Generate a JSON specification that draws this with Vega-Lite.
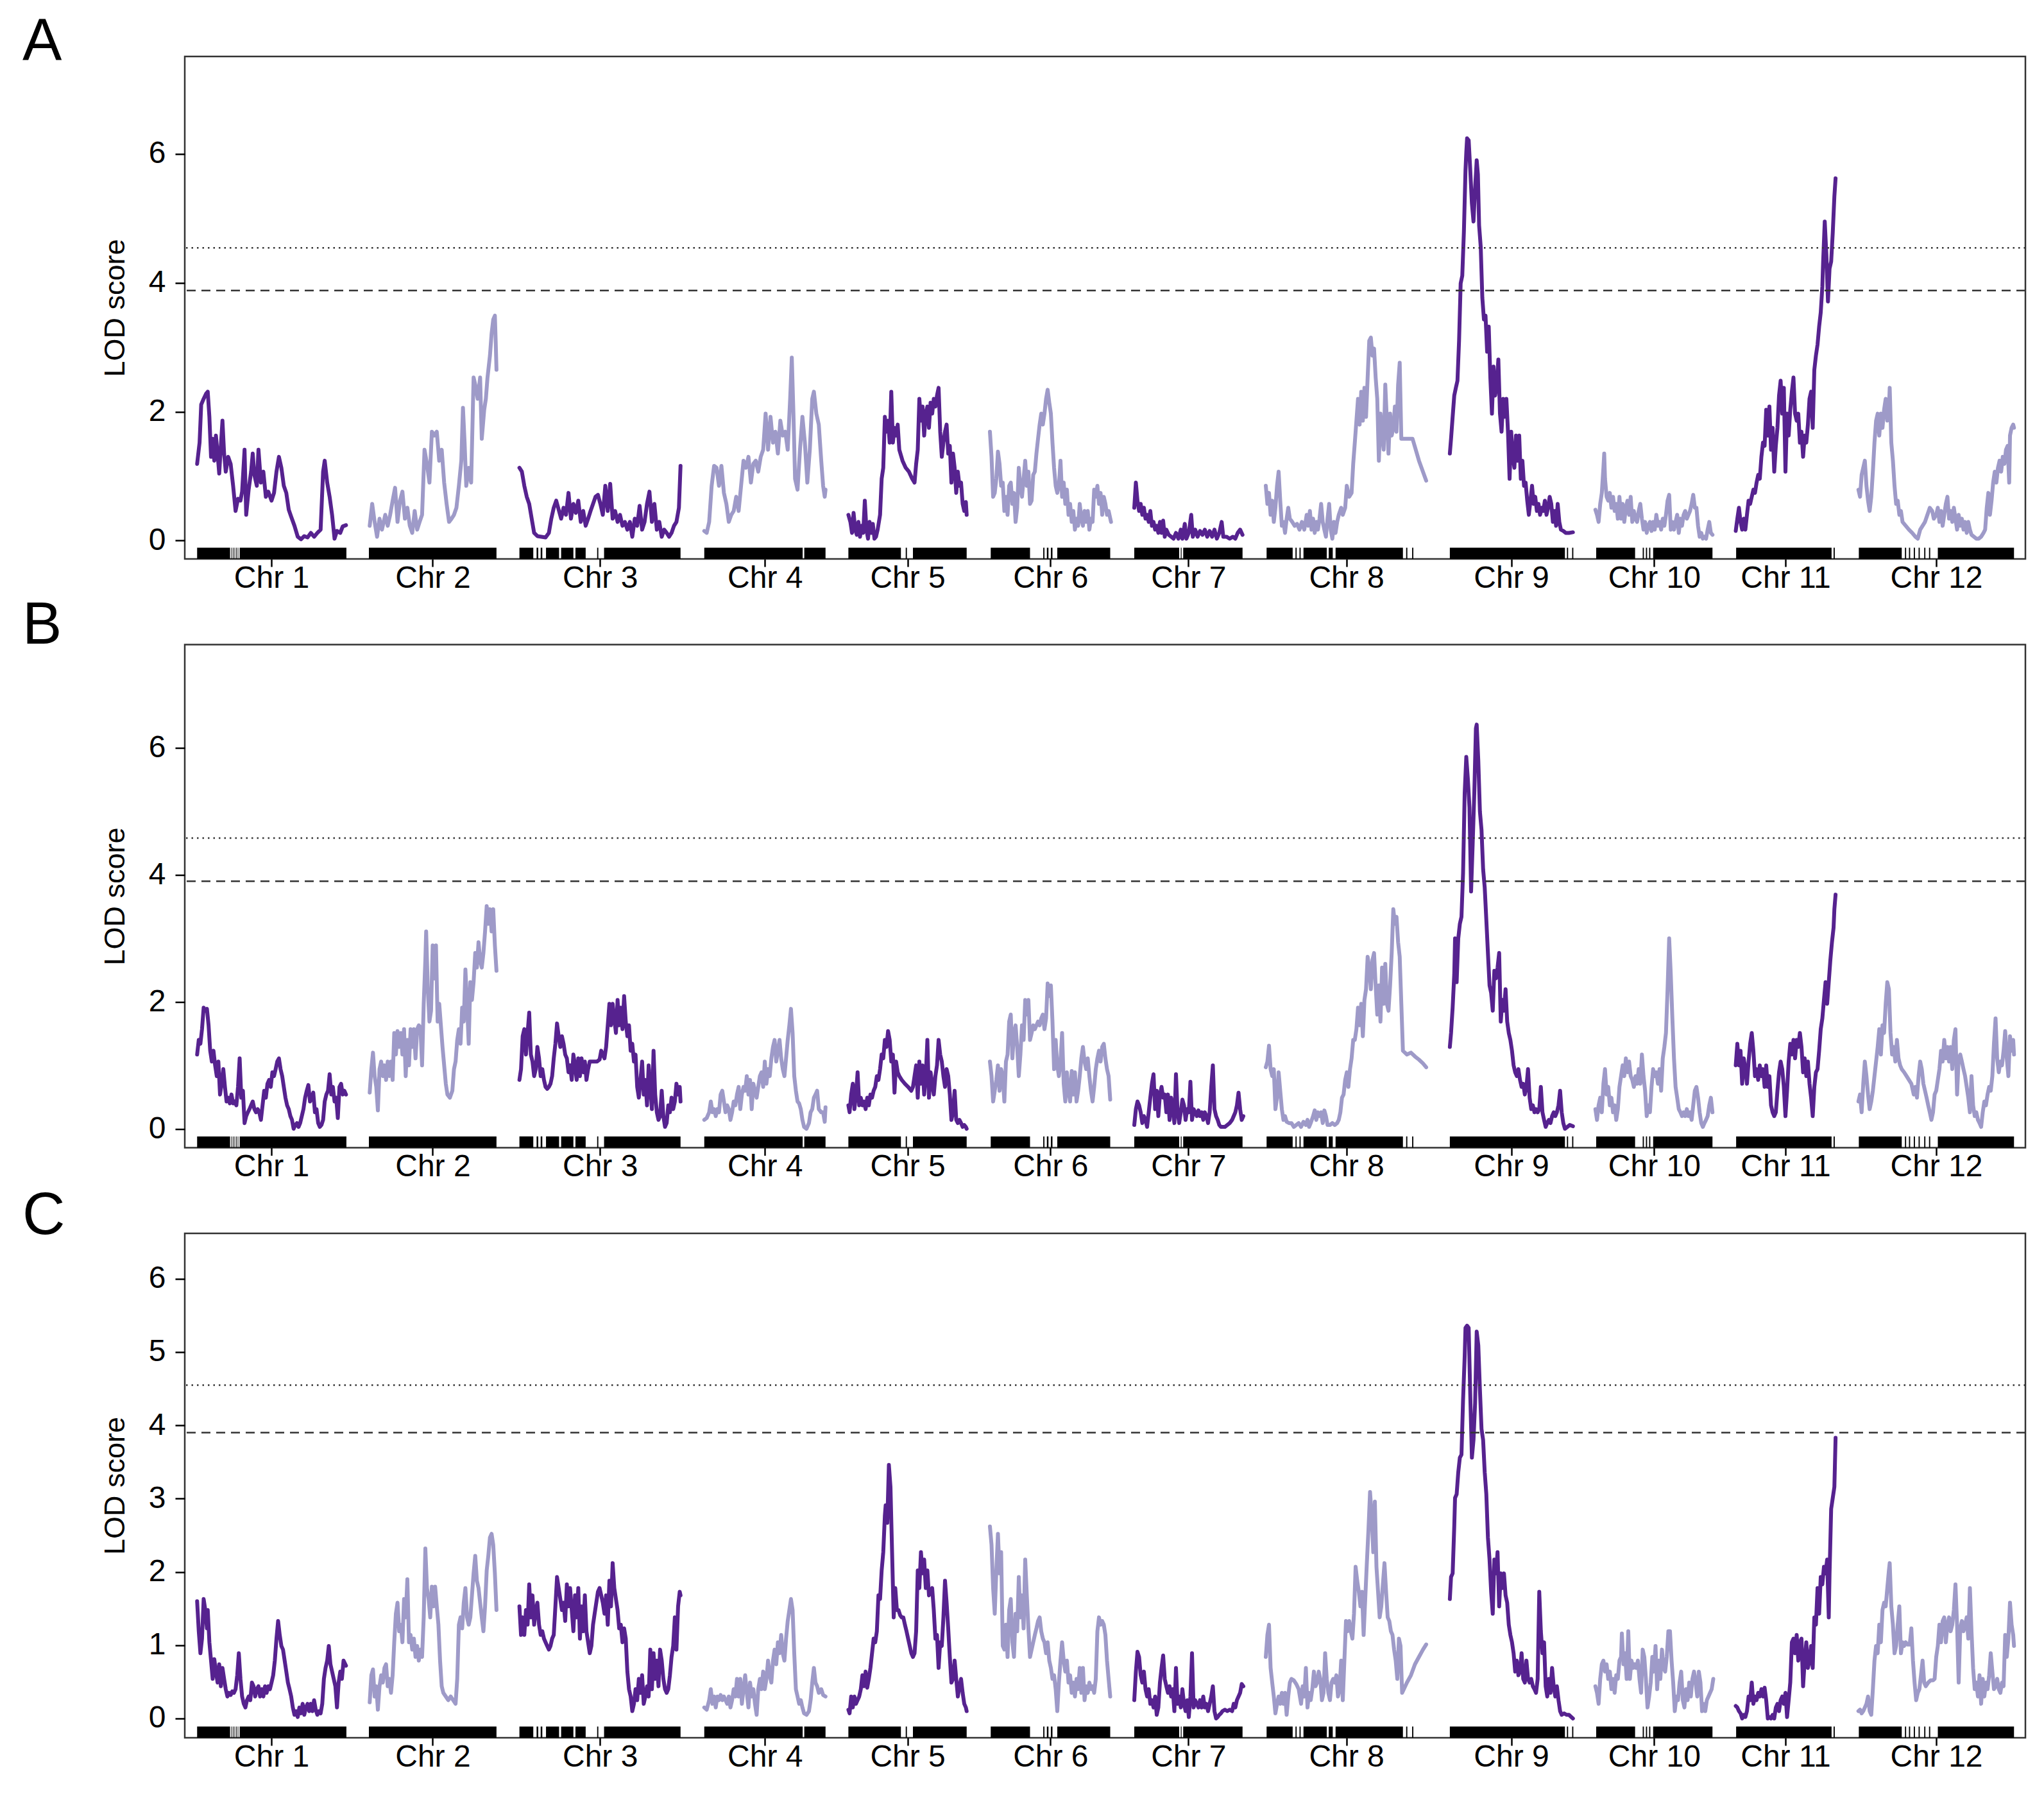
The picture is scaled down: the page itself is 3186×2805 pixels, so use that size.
{
  "$schema": "https://vega.github.io/schema/vega-lite/v6.json",
  "background": "white",
  "autosize": {"type": "pad"},
  "padding": {"left": 33, "top": 18, "right": 10, "bottom": 10},
  "spacing": 133.5,
  "bounds": "flush",
  "config": {
    "font": "Liberation Sans",
    "view": {"stroke": "#333333", "strokeWidth": 2.5},
    "axis": {"domain": false, "grid": false, "tickColor": "#000000", "tickWidth": 2.5, "labelColor": "#000000", "labelFont": "Liberation Sans", "labelFontSize": 48, "titleFont": "Liberation Sans", "titleFontSize": 45, "titleFontWeight": "normal", "titleColor": "#000000", "labelFlush": false, "labelOverlap": false},
    "axisX": {"tickSize": 12, "labelPadding": -6, "labelAngle": 0},
    "axisY": {"tickSize": 15, "labelPadding": 15, "format": "d", "titleAngle": 270, "titleBaseline": "alphabetic", "titleAlign": "center"}
  },
  "datasets": {
    "rug": [
      {"a":30.8,"b":113},{"a":116,"b":117.5},{"a":120,"b":121.5},{"a":124,"b":125.5},{"a":128,"b":129.5},{"a":132,"b":133.5},{"a":137,"b":403.1},
      {"a":459.2,"b":777.4},
      {"a":834.6,"b":869.2},{"a":877.4,"b":881.5},{"a":887.6,"b":891.7},{"a":900.9,"b":933.5},{"a":938.6,"b":969.2},{"a":974.3,"b":999.8},{"a":1028.4,"b":1031.4},{"a":1045.7,"b":1236.4},
      {"a":1295.6,"b":1541},{"a":1545,"b":1598},
      {"a":1655,"b":1786},{"a":1798,"b":1801},{"a":1816,"b":1950},
      {"a":2010,"b":2108},{"a":2141,"b":2144},{"a":2150,"b":2154},{"a":2160,"b":2164},{"a":2176,"b":2308},
      {"a":2368,"b":2480},{"a":2484,"b":2486},{"a":2490,"b":2638},
      {"a":2698,"b":2763},{"a":2770,"b":2773},{"a":2780,"b":2783},{"a":2790,"b":2848},{"a":2853,"b":2863},{"a":2870,"b":3038},{"a":3046,"b":3049},{"a":3061,"b":3064},
      {"a":3155,"b":3442},{"a":3447,"b":3450},{"a":3460,"b":3463},
      {"a":3520,"b":3617},{"a":3636,"b":3639},{"a":3644,"b":3647},{"a":3652,"b":3655},{"a":3662,"b":3810},
      {"a":3869,"b":4107},{"a":4112,"b":4115},
      {"a":4175,"b":4282},{"a":4290,"b":4293},{"a":4300,"b":4303},{"a":4312,"b":4315},{"a":4324,"b":4327},{"a":4338,"b":4341},{"a":4350,"b":4353},{"a":4372,"b":4562}
    ],
    "A": [
      {"c":1,"x":30.8,"y":1.19},{"c":1,"x":36.9,"y":1.52},{"c":1,"x":41,"y":2.11},{"c":1,"x":47.1,"y":2.2},{"c":1,"x":53.2,"y":2.28},{"c":1,"x":57.3,"y":2.31},{"c":1,"x":61.4,"y":1.92},{"c":1,"x":65.5,"y":1.3},{"c":1,"x":69.6,"y":1.58},{"c":1,"x":73.6,"y":1.24},{"c":1,"x":77.7,"y":1.63},{"c":1,"x":81.8,"y":1.35},{"c":1,"x":85.9,"y":1.04},{"c":1,"x":90,"y":1.47},{"c":1,"x":94,"y":1.86},{"c":1,"x":98.1,"y":1.35},{"c":1,"x":102.2,"y":1.07},{"c":1,"x":108.3,"y":1.3},{"c":1,"x":114.4,"y":1.19},{"c":1,"x":120.6,"y":0.85},{"c":1,"x":126.7,"y":0.46},{"c":1,"x":132.8,"y":0.65},{"c":1,"x":138.9,"y":0.62},{"c":1,"x":143,"y":0.76},{"c":1,"x":149.1,"y":1.41},{"c":1,"x":153.2,"y":0.4},{"c":1,"x":159.3,"y":0.79},{"c":1,"x":165.4,"y":1.07},{"c":1,"x":169.5,"y":1.35},{"c":1,"x":173.6,"y":1.02},{"c":1,"x":179.7,"y":0.85},{"c":1,"x":183.8,"y":1.41},{"c":1,"x":189.9,"y":0.9},{"c":1,"x":196,"y":1.07},{"c":1,"x":202.2,"y":0.68},{"c":1,"x":208.3,"y":0.76},{"c":1,"x":216.4,"y":0.62},{"c":1,"x":222.6,"y":0.74},{"c":1,"x":228.7,"y":1.07},{"c":1,"x":234.8,"y":1.3},{"c":1,"x":240.9,"y":1.13},{"c":1,"x":247,"y":0.85},{"c":1,"x":253.2,"y":0.74},{"c":1,"x":259.3,"y":0.48},{"c":1,"x":265.4,"y":0.37},{"c":1,"x":273.6,"y":0.23},{"c":1,"x":281.7,"y":0.06},{"c":1,"x":289.9,"y":0.02},{"c":1,"x":298,"y":0.07},{"c":1,"x":306.2,"y":0.05},{"c":1,"x":314.4,"y":0.12},{"c":1,"x":322.5,"y":0.06},{"c":1,"x":330.7,"y":0.12},{"c":1,"x":338.8,"y":0.17},{"c":1,"x":345,"y":1.07},{"c":1,"x":349,"y":1.24},{"c":1,"x":355.2,"y":0.9},{"c":1,"x":361.3,"y":0.68},{"c":1,"x":367.4,"y":0.4},{"c":1,"x":373.5,"y":0.03},{"c":1,"x":379.6,"y":0.15},{"c":1,"x":387.8,"y":0.12},{"c":1,"x":393.9,"y":0.22},{"c":1,"x":402.1,"y":0.24},
      {"c":2,"x":461.2,"y":0.23},{"c":2,"x":467.4,"y":0.57},{"c":2,"x":473.5,"y":0.29},{"c":2,"x":479.6,"y":0.06},{"c":2,"x":485.7,"y":0.34},{"c":2,"x":491.8,"y":0.17},{"c":2,"x":500,"y":0.4},{"c":2,"x":506.1,"y":0.23},{"c":2,"x":512.2,"y":0.4},{"c":2,"x":518.4,"y":0.62},{"c":2,"x":524.5,"y":0.82},{"c":2,"x":530.6,"y":0.29},{"c":2,"x":536.7,"y":0.62},{"c":2,"x":542.8,"y":0.76},{"c":2,"x":549,"y":0.34},{"c":2,"x":555.1,"y":0.51},{"c":2,"x":561.2,"y":0.23},{"c":2,"x":567.3,"y":0.12},{"c":2,"x":573.4,"y":0.46},{"c":2,"x":579.6,"y":0.17},{"c":2,"x":585.7,"y":0.29},{"c":2,"x":591.8,"y":0.4},{"c":2,"x":597.9,"y":1.41},{"c":2,"x":604,"y":1.19},{"c":2,"x":610.2,"y":0.9},{"c":2,"x":616.3,"y":1.69},{"c":2,"x":622.4,"y":1.63},{"c":2,"x":628.5,"y":1.69},{"c":2,"x":634.6,"y":1.24},{"c":2,"x":640.8,"y":1.41},{"c":2,"x":646.9,"y":0.9},{"c":2,"x":653,"y":0.57},{"c":2,"x":659.1,"y":0.29},{"c":2,"x":665.2,"y":0.34},{"c":2,"x":671.4,"y":0.4},{"c":2,"x":677.5,"y":0.51},{"c":2,"x":683.6,"y":0.85},{"c":2,"x":689.7,"y":1.24},{"c":2,"x":693.8,"y":2.06},{"c":2,"x":697.9,"y":1.52},{"c":2,"x":702,"y":0.85},{"c":2,"x":708.1,"y":1.13},{"c":2,"x":714.2,"y":0.9},{"c":2,"x":720.3,"y":2.53},{"c":2,"x":724.4,"y":2.42},{"c":2,"x":730.5,"y":2.2},{"c":2,"x":736.6,"y":2.53},{"c":2,"x":740.7,"y":1.58},{"c":2,"x":746.8,"y":2.03},{"c":2,"x":750.9,"y":2.2},{"c":2,"x":755,"y":2.53},{"c":2,"x":761.1,"y":2.87},{"c":2,"x":765.2,"y":3.21},{"c":2,"x":769.3,"y":3.43},{"c":2,"x":773.4,"y":3.49},{"c":2,"x":775.4,"y":3.1},{"c":2,"x":777.4,"y":2.65},
      {"c":3,"x":834.6,"y":1.13},{"c":3,"x":840.7,"y":1.07},{"c":3,"x":846.8,"y":0.85},{"c":3,"x":852.9,"y":0.68},{"c":3,"x":859,"y":0.57},{"c":3,"x":865.2,"y":0.34},{"c":3,"x":871.3,"y":0.12},{"c":3,"x":879.4,"y":0.07},{"c":3,"x":889.6,"y":0.06},{"c":3,"x":899.8,"y":0.05},{"c":3,"x":908,"y":0.12},{"c":3,"x":914.1,"y":0.34},{"c":3,"x":920.2,"y":0.51},{"c":3,"x":926.4,"y":0.62},{"c":3,"x":932.5,"y":0.48},{"c":3,"x":938.6,"y":0.34},{"c":3,"x":944.7,"y":0.51},{"c":3,"x":950.8,"y":0.4},{"c":3,"x":957,"y":0.74},{"c":3,"x":963.1,"y":0.34},{"c":3,"x":969.2,"y":0.57},{"c":3,"x":975.3,"y":0.43},{"c":3,"x":981.4,"y":0.62},{"c":3,"x":987.6,"y":0.29},{"c":3,"x":993.7,"y":0.46},{"c":3,"x":999.8,"y":0.23},{"c":3,"x":1005.9,"y":0.34},{"c":3,"x":1012,"y":0.46},{"c":3,"x":1018.2,"y":0.57},{"c":3,"x":1024.3,"y":0.68},{"c":3,"x":1030.4,"y":0.71},{"c":3,"x":1036.5,"y":0.57},{"c":3,"x":1042.6,"y":0.4},{"c":3,"x":1048.8,"y":0.85},{"c":3,"x":1054.9,"y":0.46},{"c":3,"x":1061,"y":0.88},{"c":3,"x":1067.1,"y":0.34},{"c":3,"x":1073.2,"y":0.46},{"c":3,"x":1079.4,"y":0.29},{"c":3,"x":1085.5,"y":0.4},{"c":3,"x":1091.6,"y":0.23},{"c":3,"x":1097.7,"y":0.29},{"c":3,"x":1103.8,"y":0.17},{"c":3,"x":1110,"y":0.29},{"c":3,"x":1116.1,"y":0.06},{"c":3,"x":1122.2,"y":0.34},{"c":3,"x":1128.3,"y":0.23},{"c":3,"x":1134.4,"y":0.54},{"c":3,"x":1140.6,"y":0.17},{"c":3,"x":1146.7,"y":0.29},{"c":3,"x":1152.8,"y":0.57},{"c":3,"x":1158.9,"y":0.76},{"c":3,"x":1165,"y":0.29},{"c":3,"x":1171.2,"y":0.57},{"c":3,"x":1177.3,"y":0.17},{"c":3,"x":1183.4,"y":0.29},{"c":3,"x":1189.5,"y":0.06},{"c":3,"x":1195.6,"y":0.17},{"c":3,"x":1201.8,"y":0.12},{"c":3,"x":1207.9,"y":0.06},{"c":3,"x":1214,"y":0.12},{"c":3,"x":1220.1,"y":0.23},{"c":3,"x":1226.2,"y":0.29},{"c":3,"x":1232.4,"y":0.51},{"c":3,"x":1236.4,"y":1.16},
      {"c":4,"x":1295.6,"y":0.15},{"c":4,"x":1301.7,"y":0.12},{"c":4,"x":1307.8,"y":0.29},{"c":4,"x":1314,"y":0.85},{"c":4,"x":1320.1,"y":1.16},{"c":4,"x":1326.2,"y":1.13},{"c":4,"x":1332.3,"y":0.85},{"c":4,"x":1338.4,"y":1.16},{"c":4,"x":1344.6,"y":0.74},{"c":4,"x":1350.7,"y":0.57},{"c":4,"x":1356.8,"y":0.29},{"c":4,"x":1362.9,"y":0.4},{"c":4,"x":1369,"y":0.46},{"c":4,"x":1375.2,"y":0.68},{"c":4,"x":1381.3,"y":0.46},{"c":4,"x":1387.4,"y":0.85},{"c":4,"x":1393.5,"y":1.24},{"c":4,"x":1399.6,"y":1.13},{"c":4,"x":1405.8,"y":1.3},{"c":4,"x":1411.9,"y":0.9},{"c":4,"x":1418,"y":1.19},{"c":4,"x":1424.1,"y":1.24},{"c":4,"x":1430.2,"y":1.07},{"c":4,"x":1436.4,"y":1.3},{"c":4,"x":1442.5,"y":1.41},{"c":4,"x":1448.6,"y":1.97},{"c":4,"x":1454.7,"y":1.41},{"c":4,"x":1460.8,"y":1.92},{"c":4,"x":1467,"y":1.52},{"c":4,"x":1473.1,"y":1.69},{"c":4,"x":1479.2,"y":1.35},{"c":4,"x":1485.3,"y":1.86},{"c":4,"x":1491.4,"y":1.63},{"c":4,"x":1497.6,"y":1.69},{"c":4,"x":1503.7,"y":1.41},{"c":4,"x":1509.8,"y":2.2},{"c":4,"x":1513.9,"y":2.84},{"c":4,"x":1518,"y":1.97},{"c":4,"x":1522,"y":0.96},{"c":4,"x":1528.2,"y":0.79},{"c":4,"x":1534.3,"y":1.41},{"c":4,"x":1540.4,"y":1.92},{"c":4,"x":1546.5,"y":1.52},{"c":4,"x":1552.6,"y":0.9},{"c":4,"x":1558.8,"y":1.41},{"c":4,"x":1564.9,"y":2.2},{"c":4,"x":1569,"y":2.31},{"c":4,"x":1575.1,"y":1.97},{"c":4,"x":1581.2,"y":1.8},{"c":4,"x":1587.3,"y":1.24},{"c":4,"x":1592,"y":0.85},{"c":4,"x":1596,"y":0.68},{"c":4,"x":1598,"y":0.79},
      {"c":5,"x":1655,"y":0.4},{"c":5,"x":1660,"y":0.29},{"c":5,"x":1664,"y":0.12},{"c":5,"x":1668,"y":0.43},{"c":5,"x":1672,"y":0.17},{"c":5,"x":1676,"y":0.09},{"c":5,"x":1680,"y":0.29},{"c":5,"x":1684,"y":0.06},{"c":5,"x":1688,"y":0.23},{"c":5,"x":1692,"y":0.12},{"c":5,"x":1696,"y":0.62},{"c":5,"x":1700,"y":0.17},{"c":5,"x":1704,"y":0.03},{"c":5,"x":1708,"y":0.29},{"c":5,"x":1712,"y":0.12},{"c":5,"x":1716,"y":0.26},{"c":5,"x":1720,"y":0.03},{"c":5,"x":1724,"y":0.06},{"c":5,"x":1728,"y":0.17},{"c":5,"x":1734,"y":0.4},{"c":5,"x":1738,"y":0.96},{"c":5,"x":1742,"y":1.13},{"c":5,"x":1746,"y":1.92},{"c":5,"x":1750,"y":1.69},{"c":5,"x":1754,"y":1.86},{"c":5,"x":1758,"y":1.52},{"c":5,"x":1762,"y":2.31},{"c":5,"x":1766,"y":1.52},{"c":5,"x":1770,"y":1.75},{"c":5,"x":1774,"y":1.63},{"c":5,"x":1778,"y":1.8},{"c":5,"x":1782,"y":1.41},{"c":5,"x":1790,"y":1.24},{"c":5,"x":1798,"y":1.13},{"c":5,"x":1806,"y":1.07},{"c":5,"x":1814,"y":0.96},{"c":5,"x":1820,"y":0.9},{"c":5,"x":1824,"y":1.19},{"c":5,"x":1828,"y":1.41},{"c":5,"x":1832,"y":2.2},{"c":5,"x":1836,"y":1.86},{"c":5,"x":1840,"y":2.08},{"c":5,"x":1844,"y":1.63},{"c":5,"x":1848,"y":1.97},{"c":5,"x":1852,"y":2.08},{"c":5,"x":1856,"y":1.75},{"c":5,"x":1860,"y":2.14},{"c":5,"x":1864,"y":1.97},{"c":5,"x":1868,"y":2.2},{"c":5,"x":1872,"y":2.08},{"c":5,"x":1876,"y":2.25},{"c":5,"x":1880,"y":2.37},{"c":5,"x":1884,"y":1.69},{"c":5,"x":1888,"y":1.3},{"c":5,"x":1892,"y":1.52},{"c":5,"x":1896,"y":1.69},{"c":5,"x":1900,"y":1.8},{"c":5,"x":1904,"y":1.35},{"c":5,"x":1908,"y":1.47},{"c":5,"x":1912,"y":0.9},{"c":5,"x":1916,"y":1.35},{"c":5,"x":1920,"y":1.13},{"c":5,"x":1924,"y":0.74},{"c":5,"x":1928,"y":1.07},{"c":5,"x":1932,"y":0.85},{"c":5,"x":1936,"y":0.9},{"c":5,"x":1940,"y":0.57},{"c":5,"x":1944,"y":0.46},{"c":5,"x":1948,"y":0.6},{"c":5,"x":1950,"y":0.4},
      {"c":6,"x":2008,"y":1.69},{"c":6,"x":2012,"y":1.3},{"c":6,"x":2016,"y":0.68},{"c":6,"x":2020,"y":0.74},{"c":6,"x":2024,"y":0.96},{"c":6,"x":2028,"y":1.38},{"c":6,"x":2032,"y":1.19},{"c":6,"x":2036,"y":0.85},{"c":6,"x":2040,"y":0.9},{"c":6,"x":2044,"y":0.46},{"c":6,"x":2048,"y":0.68},{"c":6,"x":2052,"y":0.4},{"c":6,"x":2056,"y":0.85},{"c":6,"x":2060,"y":0.9},{"c":6,"x":2064,"y":0.57},{"c":6,"x":2068,"y":0.74},{"c":6,"x":2072,"y":0.29},{"c":6,"x":2076,"y":0.51},{"c":6,"x":2080,"y":1.13},{"c":6,"x":2084,"y":0.85},{"c":6,"x":2088,"y":0.68},{"c":6,"x":2092,"y":0.96},{"c":6,"x":2096,"y":1.24},{"c":6,"x":2100,"y":0.85},{"c":6,"x":2104,"y":1.07},{"c":6,"x":2108,"y":0.57},{"c":6,"x":2112,"y":0.62},{"c":6,"x":2116,"y":1.02},{"c":6,"x":2120,"y":1.07},{"c":6,"x":2124,"y":1.35},{"c":6,"x":2128,"y":1.58},{"c":6,"x":2132,"y":1.8},{"c":6,"x":2136,"y":1.97},{"c":6,"x":2140,"y":1.8},{"c":6,"x":2144,"y":1.97},{"c":6,"x":2148,"y":2.2},{"c":6,"x":2152,"y":2.34},{"c":6,"x":2156,"y":2.14},{"c":6,"x":2160,"y":1.97},{"c":6,"x":2164,"y":1.52},{"c":6,"x":2168,"y":1.13},{"c":6,"x":2172,"y":0.85},{"c":6,"x":2176,"y":0.74},{"c":6,"x":2180,"y":0.85},{"c":6,"x":2184,"y":1.24},{"c":6,"x":2188,"y":0.68},{"c":6,"x":2192,"y":0.9},{"c":6,"x":2196,"y":0.57},{"c":6,"x":2200,"y":0.79},{"c":6,"x":2204,"y":0.4},{"c":6,"x":2208,"y":0.57},{"c":6,"x":2212,"y":0.29},{"c":6,"x":2216,"y":0.46},{"c":6,"x":2220,"y":0.17},{"c":6,"x":2224,"y":0.34},{"c":6,"x":2228,"y":0.23},{"c":6,"x":2232,"y":0.57},{"c":6,"x":2236,"y":0.34},{"c":6,"x":2240,"y":0.23},{"c":6,"x":2244,"y":0.46},{"c":6,"x":2248,"y":0.29},{"c":6,"x":2252,"y":0.46},{"c":6,"x":2256,"y":0.17},{"c":6,"x":2260,"y":0.34},{"c":6,"x":2264,"y":0.29},{"c":6,"x":2268,"y":0.79},{"c":6,"x":2272,"y":0.68},{"c":6,"x":2276,"y":0.85},{"c":6,"x":2280,"y":0.57},{"c":6,"x":2284,"y":0.74},{"c":6,"x":2288,"y":0.4},{"c":6,"x":2292,"y":0.68},{"c":6,"x":2296,"y":0.57},{"c":6,"x":2300,"y":0.4},{"c":6,"x":2304,"y":0.46},{"c":6,"x":2310,"y":0.29},
      {"c":7,"x":2368,"y":0.51},{"c":7,"x":2372,"y":0.9},{"c":7,"x":2376,"y":0.62},{"c":7,"x":2380,"y":0.46},{"c":7,"x":2384,"y":0.57},{"c":7,"x":2388,"y":0.4},{"c":7,"x":2392,"y":0.51},{"c":7,"x":2396,"y":0.34},{"c":7,"x":2400,"y":0.4},{"c":7,"x":2404,"y":0.29},{"c":7,"x":2408,"y":0.46},{"c":7,"x":2412,"y":0.23},{"c":7,"x":2416,"y":0.29},{"c":7,"x":2420,"y":0.17},{"c":7,"x":2424,"y":0.23},{"c":7,"x":2428,"y":0.12},{"c":7,"x":2432,"y":0.29},{"c":7,"x":2436,"y":0.12},{"c":7,"x":2440,"y":0.31},{"c":7,"x":2444,"y":0.06},{"c":7,"x":2448,"y":0.17},{"c":7,"x":2454,"y":0.09},{"c":7,"x":2460,"y":0.06},{"c":7,"x":2466,"y":0.03},{"c":7,"x":2472,"y":0.12},{"c":7,"x":2478,"y":0.03},{"c":7,"x":2484,"y":0.17},{"c":7,"x":2488,"y":0.03},{"c":7,"x":2494,"y":0.26},{"c":7,"x":2498,"y":0.03},{"c":7,"x":2504,"y":0.12},{"c":7,"x":2510,"y":0.4},{"c":7,"x":2514,"y":0.06},{"c":7,"x":2520,"y":0.17},{"c":7,"x":2526,"y":0.06},{"c":7,"x":2532,"y":0.15},{"c":7,"x":2538,"y":0.09},{"c":7,"x":2544,"y":0.17},{"c":7,"x":2550,"y":0.06},{"c":7,"x":2556,"y":0.15},{"c":7,"x":2562,"y":0.06},{"c":7,"x":2568,"y":0.17},{"c":7,"x":2574,"y":0.03},{"c":7,"x":2580,"y":0.12},{"c":7,"x":2586,"y":0.29},{"c":7,"x":2590,"y":0.06},{"c":7,"x":2598,"y":0.06},{"c":7,"x":2606,"y":0.03},{"c":7,"x":2614,"y":0.06},{"c":7,"x":2620,"y":0.03},{"c":7,"x":2626,"y":0.12},{"c":7,"x":2632,"y":0.17},{"c":7,"x":2638,"y":0.09},
      {"c":8,"x":2696,"y":0.85},{"c":8,"x":2700,"y":0.57},{"c":8,"x":2704,"y":0.74},{"c":8,"x":2708,"y":0.4},{"c":8,"x":2712,"y":0.62},{"c":8,"x":2716,"y":0.29},{"c":8,"x":2720,"y":0.51},{"c":8,"x":2724,"y":0.85},{"c":8,"x":2728,"y":1.07},{"c":8,"x":2732,"y":0.62},{"c":8,"x":2736,"y":0.23},{"c":8,"x":2740,"y":0.29},{"c":8,"x":2744,"y":0.12},{"c":8,"x":2748,"y":0.34},{"c":8,"x":2752,"y":0.51},{"c":8,"x":2756,"y":0.34},{"c":8,"x":2762,"y":0.29},{"c":8,"x":2768,"y":0.23},{"c":8,"x":2774,"y":0.26},{"c":8,"x":2780,"y":0.17},{"c":8,"x":2786,"y":0.29},{"c":8,"x":2792,"y":0.17},{"c":8,"x":2798,"y":0.4},{"c":8,"x":2802,"y":0.23},{"c":8,"x":2806,"y":0.46},{"c":8,"x":2810,"y":0.17},{"c":8,"x":2814,"y":0.34},{"c":8,"x":2818,"y":0.12},{"c":8,"x":2822,"y":0.29},{"c":8,"x":2826,"y":0.17},{"c":8,"x":2830,"y":0.34},{"c":8,"x":2834,"y":0.57},{"c":8,"x":2838,"y":0.29},{"c":8,"x":2842,"y":0.17},{"c":8,"x":2846,"y":0.06},{"c":8,"x":2850,"y":0.34},{"c":8,"x":2854,"y":0.57},{"c":8,"x":2858,"y":0.17},{"c":8,"x":2862,"y":0.03},{"c":8,"x":2866,"y":0.29},{"c":8,"x":2870,"y":0.12},{"c":8,"x":2874,"y":0.29},{"c":8,"x":2878,"y":0.4},{"c":8,"x":2884,"y":0.51},{"c":8,"x":2888,"y":0.4},{"c":8,"x":2894,"y":0.51},{"c":8,"x":2898,"y":0.85},{"c":8,"x":2904,"y":0.68},{"c":8,"x":2910,"y":0.74},{"c":8,"x":2914,"y":1.19},{"c":8,"x":2918,"y":1.52},{"c":8,"x":2922,"y":1.86},{"c":8,"x":2926,"y":2.2},{"c":8,"x":2930,"y":1.8},{"c":8,"x":2934,"y":2.31},{"c":8,"x":2938,"y":1.86},{"c":8,"x":2942,"y":2.37},{"c":8,"x":2946,"y":1.92},{"c":8,"x":2950,"y":2.53},{"c":8,"x":2954,"y":3.1},{"c":8,"x":2958,"y":3.15},{"c":8,"x":2962,"y":2.87},{"c":8,"x":2966,"y":2.98},{"c":8,"x":2970,"y":2.53},{"c":8,"x":2974,"y":2.2},{"c":8,"x":2978,"y":1.24},{"c":8,"x":2982,"y":1.97},{"c":8,"x":2986,"y":1.63},{"c":8,"x":2990,"y":1.41},{"c":8,"x":2994,"y":2.42},{"c":8,"x":2998,"y":1.86},{"c":8,"x":3002,"y":1.35},{"c":8,"x":3006,"y":1.97},{"c":8,"x":3010,"y":1.63},{"c":8,"x":3014,"y":1.75},{"c":8,"x":3018,"y":2.08},{"c":8,"x":3022,"y":1.69},{"c":8,"x":3026,"y":2.42},{"c":8,"x":3030,"y":2.76},{"c":8,"x":3034,"y":1.58},{"c":8,"x":3048,"y":1.58},{"c":8,"x":3062,"y":1.58},{"c":8,"x":3078,"y":1.24},{"c":8,"x":3096,"y":0.93},
      {"c":9,"x":3155,"y":1.35},{"c":9,"x":3158,"y":1.58},{"c":9,"x":3162,"y":1.92},{"c":9,"x":3166,"y":2.25},{"c":9,"x":3170,"y":2.37},{"c":9,"x":3174,"y":2.48},{"c":9,"x":3178,"y":3.1},{"c":9,"x":3182,"y":3.99},{"c":9,"x":3186,"y":4.11},{"c":9,"x":3190,"y":4.78},{"c":9,"x":3194,"y":5.74},{"c":9,"x":3196,"y":6.02},{"c":9,"x":3198,"y":6.24},{"c":9,"x":3202,"y":6.21},{"c":9,"x":3206,"y":5.74},{"c":9,"x":3210,"y":5.23},{"c":9,"x":3214,"y":4.95},{"c":9,"x":3218,"y":5.46},{"c":9,"x":3222,"y":5.9},{"c":9,"x":3225,"y":5.68},{"c":9,"x":3228,"y":4.89},{"c":9,"x":3232,"y":4.56},{"c":9,"x":3236,"y":3.77},{"c":9,"x":3240,"y":3.43},{"c":9,"x":3244,"y":3.49},{"c":9,"x":3248,"y":2.93},{"c":9,"x":3252,"y":3.32},{"c":9,"x":3256,"y":2.53},{"c":9,"x":3260,"y":1.97},{"c":9,"x":3264,"y":2.7},{"c":9,"x":3268,"y":2.25},{"c":9,"x":3272,"y":2.42},{"c":9,"x":3276,"y":2.81},{"c":9,"x":3280,"y":1.97},{"c":9,"x":3284,"y":1.69},{"c":9,"x":3288,"y":2.2},{"c":9,"x":3292,"y":1.92},{"c":9,"x":3296,"y":2.2},{"c":9,"x":3300,"y":1.69},{"c":9,"x":3304,"y":0.96},{"c":9,"x":3308,"y":1.69},{"c":9,"x":3312,"y":1.3},{"c":9,"x":3316,"y":1.13},{"c":9,"x":3320,"y":1.63},{"c":9,"x":3324,"y":1.24},{"c":9,"x":3328,"y":1.63},{"c":9,"x":3332,"y":0.96},{"c":9,"x":3336,"y":1.24},{"c":9,"x":3340,"y":0.85},{"c":9,"x":3344,"y":0.9},{"c":9,"x":3348,"y":0.62},{"c":9,"x":3352,"y":0.4},{"c":9,"x":3356,"y":0.62},{"c":9,"x":3360,"y":0.85},{"c":9,"x":3364,"y":0.57},{"c":9,"x":3368,"y":0.68},{"c":9,"x":3372,"y":0.46},{"c":9,"x":3376,"y":0.57},{"c":9,"x":3380,"y":0.4},{"c":9,"x":3384,"y":0.51},{"c":9,"x":3388,"y":0.46},{"c":9,"x":3392,"y":0.62},{"c":9,"x":3396,"y":0.4},{"c":9,"x":3400,"y":0.51},{"c":9,"x":3404,"y":0.68},{"c":9,"x":3408,"y":0.57},{"c":9,"x":3412,"y":0.29},{"c":9,"x":3416,"y":0.46},{"c":9,"x":3420,"y":0.23},{"c":9,"x":3424,"y":0.57},{"c":9,"x":3428,"y":0.29},{"c":9,"x":3432,"y":0.17},{"c":9,"x":3438,"y":0.15},{"c":9,"x":3444,"y":0.12},{"c":9,"x":3452,"y":0.12},{"c":9,"x":3462,"y":0.13},
      {"c":10,"x":3518,"y":0.48},{"c":10,"x":3522,"y":0.4},{"c":10,"x":3526,"y":0.29},{"c":10,"x":3530,"y":0.57},{"c":10,"x":3534,"y":0.74},{"c":10,"x":3538,"y":1.13},{"c":10,"x":3540,"y":1.35},{"c":10,"x":3542,"y":0.96},{"c":10,"x":3546,"y":0.68},{"c":10,"x":3550,"y":0.62},{"c":10,"x":3554,"y":0.74},{"c":10,"x":3558,"y":0.51},{"c":10,"x":3562,"y":0.68},{"c":10,"x":3566,"y":0.46},{"c":10,"x":3570,"y":0.57},{"c":10,"x":3574,"y":0.34},{"c":10,"x":3578,"y":0.68},{"c":10,"x":3582,"y":0.34},{"c":10,"x":3586,"y":0.57},{"c":10,"x":3590,"y":0.29},{"c":10,"x":3594,"y":0.51},{"c":10,"x":3598,"y":0.62},{"c":10,"x":3602,"y":0.4},{"c":10,"x":3606,"y":0.68},{"c":10,"x":3610,"y":0.29},{"c":10,"x":3614,"y":0.46},{"c":10,"x":3618,"y":0.34},{"c":10,"x":3622,"y":0.29},{"c":10,"x":3626,"y":0.46},{"c":10,"x":3630,"y":0.57},{"c":10,"x":3634,"y":0.34},{"c":10,"x":3638,"y":0.17},{"c":10,"x":3642,"y":0.29},{"c":10,"x":3646,"y":0.12},{"c":10,"x":3650,"y":0.23},{"c":10,"x":3654,"y":0.29},{"c":10,"x":3658,"y":0.15},{"c":10,"x":3662,"y":0.29},{"c":10,"x":3666,"y":0.17},{"c":10,"x":3670,"y":0.4},{"c":10,"x":3674,"y":0.23},{"c":10,"x":3678,"y":0.29},{"c":10,"x":3682,"y":0.17},{"c":10,"x":3686,"y":0.34},{"c":10,"x":3690,"y":0.23},{"c":10,"x":3694,"y":0.4},{"c":10,"x":3698,"y":0.62},{"c":10,"x":3702,"y":0.71},{"c":10,"x":3706,"y":0.17},{"c":10,"x":3710,"y":0.29},{"c":10,"x":3714,"y":0.17},{"c":10,"x":3718,"y":0.29},{"c":10,"x":3722,"y":0.4},{"c":10,"x":3726,"y":0.12},{"c":10,"x":3730,"y":0.34},{"c":10,"x":3734,"y":0.23},{"c":10,"x":3738,"y":0.4},{"c":10,"x":3742,"y":0.46},{"c":10,"x":3746,"y":0.34},{"c":10,"x":3750,"y":0.4},{"c":10,"x":3754,"y":0.46},{"c":10,"x":3758,"y":0.57},{"c":10,"x":3762,"y":0.71},{"c":10,"x":3766,"y":0.51},{"c":10,"x":3770,"y":0.51},{"c":10,"x":3774,"y":0.23},{"c":10,"x":3778,"y":0.06},{"c":10,"x":3782,"y":0.12},{"c":10,"x":3786,"y":0.03},{"c":10,"x":3790,"y":0.06},{"c":10,"x":3794,"y":0.03},{"c":10,"x":3798,"y":0.17},{"c":10,"x":3802,"y":0.29},{"c":10,"x":3806,"y":0.12},{"c":10,"x":3810,"y":0.09},
      {"c":11,"x":3868,"y":0.15},{"c":11,"x":3872,"y":0.34},{"c":11,"x":3876,"y":0.51},{"c":11,"x":3880,"y":0.29},{"c":11,"x":3884,"y":0.17},{"c":11,"x":3888,"y":0.34},{"c":11,"x":3892,"y":0.17},{"c":11,"x":3896,"y":0.4},{"c":11,"x":3900,"y":0.62},{"c":11,"x":3904,"y":0.57},{"c":11,"x":3908,"y":0.68},{"c":11,"x":3912,"y":0.79},{"c":11,"x":3916,"y":0.74},{"c":11,"x":3920,"y":0.9},{"c":11,"x":3924,"y":1.02},{"c":11,"x":3928,"y":0.96},{"c":11,"x":3932,"y":1.3},{"c":11,"x":3936,"y":1.52},{"c":11,"x":3940,"y":1.47},{"c":11,"x":3944,"y":2.03},{"c":11,"x":3948,"y":1.63},{"c":11,"x":3952,"y":2.08},{"c":11,"x":3956,"y":1.41},{"c":11,"x":3960,"y":1.75},{"c":11,"x":3964,"y":1.07},{"c":11,"x":3968,"y":1.47},{"c":11,"x":3972,"y":1.75},{"c":11,"x":3976,"y":2.25},{"c":11,"x":3980,"y":2.48},{"c":11,"x":3984,"y":1.97},{"c":11,"x":3988,"y":2.37},{"c":11,"x":3992,"y":1.07},{"c":11,"x":3996,"y":1.97},{"c":11,"x":4000,"y":1.63},{"c":11,"x":4004,"y":2.03},{"c":11,"x":4008,"y":2.31},{"c":11,"x":4012,"y":2.53},{"c":11,"x":4016,"y":1.97},{"c":11,"x":4020,"y":1.86},{"c":11,"x":4024,"y":1.97},{"c":11,"x":4028,"y":1.52},{"c":11,"x":4032,"y":1.69},{"c":11,"x":4036,"y":1.3},{"c":11,"x":4040,"y":1.63},{"c":11,"x":4044,"y":1.52},{"c":11,"x":4048,"y":1.8},{"c":11,"x":4052,"y":2.2},{"c":11,"x":4056,"y":2.31},{"c":11,"x":4060,"y":1.75},{"c":11,"x":4064,"y":2.65},{"c":11,"x":4068,"y":2.87},{"c":11,"x":4072,"y":3.04},{"c":11,"x":4076,"y":3.32},{"c":11,"x":4080,"y":3.54},{"c":11,"x":4084,"y":3.94},{"c":11,"x":4086,"y":4.33},{"c":11,"x":4090,"y":4.95},{"c":11,"x":4094,"y":4.44},{"c":11,"x":4098,"y":3.71},{"c":11,"x":4102,"y":4.22},{"c":11,"x":4106,"y":4.33},{"c":11,"x":4110,"y":4.78},{"c":11,"x":4114,"y":5.34},{"c":11,"x":4117,"y":5.62},
      {"c":12,"x":4174,"y":0.79},{"c":12,"x":4178,"y":0.68},{"c":12,"x":4182,"y":1.02},{"c":12,"x":4186,"y":1.13},{"c":12,"x":4190,"y":1.24},{"c":12,"x":4194,"y":0.85},{"c":12,"x":4198,"y":0.62},{"c":12,"x":4202,"y":0.46},{"c":12,"x":4206,"y":0.68},{"c":12,"x":4210,"y":1.07},{"c":12,"x":4214,"y":1.52},{"c":12,"x":4218,"y":1.86},{"c":12,"x":4222,"y":1.97},{"c":12,"x":4226,"y":1.63},{"c":12,"x":4230,"y":1.97},{"c":12,"x":4234,"y":1.75},{"c":12,"x":4238,"y":2.03},{"c":12,"x":4242,"y":2.2},{"c":12,"x":4246,"y":1.86},{"c":12,"x":4250,"y":2.03},{"c":12,"x":4252,"y":2.37},{"c":12,"x":4256,"y":1.52},{"c":12,"x":4260,"y":1.24},{"c":12,"x":4264,"y":0.85},{"c":12,"x":4268,"y":0.57},{"c":12,"x":4272,"y":0.62},{"c":12,"x":4276,"y":0.4},{"c":12,"x":4280,"y":0.46},{"c":12,"x":4284,"y":0.29},{"c":12,"x":4292,"y":0.23},{"c":12,"x":4300,"y":0.17},{"c":12,"x":4308,"y":0.12},{"c":12,"x":4316,"y":0.06},{"c":12,"x":4322,"y":0.03},{"c":12,"x":4328,"y":0.17},{"c":12,"x":4334,"y":0.23},{"c":12,"x":4340,"y":0.29},{"c":12,"x":4346,"y":0.4},{"c":12,"x":4352,"y":0.51},{"c":12,"x":4358,"y":0.46},{"c":12,"x":4362,"y":0.34},{"c":12,"x":4368,"y":0.4},{"c":12,"x":4372,"y":0.51},{"c":12,"x":4376,"y":0.29},{"c":12,"x":4380,"y":0.46},{"c":12,"x":4384,"y":0.23},{"c":12,"x":4388,"y":0.4},{"c":12,"x":4392,"y":0.57},{"c":12,"x":4396,"y":0.68},{"c":12,"x":4400,"y":0.34},{"c":12,"x":4404,"y":0.46},{"c":12,"x":4408,"y":0.29},{"c":12,"x":4412,"y":0.51},{"c":12,"x":4416,"y":0.34},{"c":12,"x":4420,"y":0.17},{"c":12,"x":4424,"y":0.4},{"c":12,"x":4428,"y":0.23},{"c":12,"x":4432,"y":0.34},{"c":12,"x":4436,"y":0.17},{"c":12,"x":4440,"y":0.29},{"c":12,"x":4444,"y":0.12},{"c":12,"x":4448,"y":0.29},{"c":12,"x":4452,"y":0.17},{"c":12,"x":4456,"y":0.09},{"c":12,"x":4462,"y":0.06},{"c":12,"x":4468,"y":0.03},{"c":12,"x":4474,"y":0.03},{"c":12,"x":4480,"y":0.06},{"c":12,"x":4486,"y":0.12},{"c":12,"x":4490,"y":0.17},{"c":12,"x":4494,"y":0.51},{"c":12,"x":4498,"y":0.74},{"c":12,"x":4502,"y":0.4},{"c":12,"x":4506,"y":0.62},{"c":12,"x":4510,"y":0.9},{"c":12,"x":4514,"y":1.07},{"c":12,"x":4518,"y":0.9},{"c":12,"x":4522,"y":1.13},{"c":12,"x":4526,"y":1.24},{"c":12,"x":4530,"y":1.07},{"c":12,"x":4534,"y":1.3},{"c":12,"x":4538,"y":1.19},{"c":12,"x":4542,"y":1.41},{"c":12,"x":4546,"y":1.47},{"c":12,"x":4550,"y":0.9},{"c":12,"x":4552,"y":1.63},{"c":12,"x":4556,"y":1.75},{"c":12,"x":4560,"y":1.8},{"c":12,"x":4562,"y":1.75}
    ],
    "B": [
      {"c":1,"x":30.8,"y":1.17},{"c":1,"x":34.9,"y":1.4},{"c":1,"x":39,"y":1.34},{"c":1,"x":43,"y":1.57},{"c":1,"x":47.1,"y":1.91},{"c":1,"x":51.2,"y":1.86},{"c":1,"x":55.3,"y":1.89},{"c":1,"x":59.4,"y":1.63},{"c":1,"x":63.4,"y":1.23},{"c":1,"x":67.5,"y":1.06},{"c":1,"x":71.6,"y":1.23},{"c":1,"x":75.7,"y":1},{"c":1,"x":79.8,"y":0.83},{"c":1,"x":83.8,"y":1.06},{"c":1,"x":87.9,"y":0.54},{"c":1,"x":92,"y":0.71},{"c":1,"x":96.1,"y":0.94},{"c":1,"x":100.2,"y":0.66},{"c":1,"x":104.2,"y":0.43},{"c":1,"x":108.3,"y":0.49},{"c":1,"x":112.4,"y":0.4},{"c":1,"x":116.5,"y":0.54},{"c":1,"x":120.6,"y":0.4},{"c":1,"x":124.6,"y":0.43},{"c":1,"x":128.7,"y":0.37},{"c":1,"x":132.8,"y":0.66},{"c":1,"x":136.9,"y":1.11},{"c":1,"x":141,"y":0.49},{"c":1,"x":145,"y":0.6},{"c":1,"x":149.1,"y":0.09},{"c":1,"x":153.2,"y":0.2},{"c":1,"x":157.3,"y":0.26},{"c":1,"x":161.4,"y":0.31},{"c":1,"x":165.4,"y":0.37},{"c":1,"x":169.5,"y":0.43},{"c":1,"x":173.6,"y":0.31},{"c":1,"x":177.7,"y":0.26},{"c":1,"x":181.8,"y":0.31},{"c":1,"x":185.8,"y":0.26},{"c":1,"x":189.9,"y":0.14},{"c":1,"x":194,"y":0.37},{"c":1,"x":198.1,"y":0.6},{"c":1,"x":202.2,"y":0.49},{"c":1,"x":206.2,"y":0.71},{"c":1,"x":210.3,"y":0.77},{"c":1,"x":214.4,"y":0.66},{"c":1,"x":218.5,"y":0.89},{"c":1,"x":222.6,"y":0.83},{"c":1,"x":226.6,"y":0.94},{"c":1,"x":230.7,"y":1.06},{"c":1,"x":234.8,"y":1.11},{"c":1,"x":238.9,"y":0.94},{"c":1,"x":243,"y":0.83},{"c":1,"x":247,"y":0.66},{"c":1,"x":251.1,"y":0.49},{"c":1,"x":255.2,"y":0.37},{"c":1,"x":259.3,"y":0.31},{"c":1,"x":263.4,"y":0.2},{"c":1,"x":267.4,"y":0.14},{"c":1,"x":271.5,"y":0},{"c":1,"x":275.6,"y":0.06},{"c":1,"x":279.7,"y":0.09},{"c":1,"x":283.8,"y":0.03},{"c":1,"x":287.8,"y":0.09},{"c":1,"x":291.9,"y":0.2},{"c":1,"x":296,"y":0.31},{"c":1,"x":300.1,"y":0.49},{"c":1,"x":304.2,"y":0.6},{"c":1,"x":308.2,"y":0.69},{"c":1,"x":312.3,"y":0.43},{"c":1,"x":316.4,"y":0.49},{"c":1,"x":320.5,"y":0.57},{"c":1,"x":324.6,"y":0.26},{"c":1,"x":328.6,"y":0.31},{"c":1,"x":332.7,"y":0.09},{"c":1,"x":336.8,"y":0.03},{"c":1,"x":340.9,"y":0.06},{"c":1,"x":345,"y":0.14},{"c":1,"x":349,"y":0.43},{"c":1,"x":353.1,"y":0.54},{"c":1,"x":357.2,"y":0.6},{"c":1,"x":361.3,"y":0.86},{"c":1,"x":365.4,"y":0.54},{"c":1,"x":369.4,"y":0.66},{"c":1,"x":373.5,"y":0.43},{"c":1,"x":377.6,"y":0.49},{"c":1,"x":381.7,"y":0.17},{"c":1,"x":385.8,"y":0.66},{"c":1,"x":389.8,"y":0.71},{"c":1,"x":393.9,"y":0.54},{"c":1,"x":398,"y":0.6},{"c":1,"x":402.1,"y":0.54},
      {"c":2,"x":461.2,"y":0.57},{"c":2,"x":465.3,"y":0.94},{"c":2,"x":469.4,"y":1.2},{"c":2,"x":473.5,"y":0.83},{"c":2,"x":477.6,"y":0.66},{"c":2,"x":481.6,"y":0.29},{"c":2,"x":485.7,"y":0.94},{"c":2,"x":489.8,"y":1.06},{"c":2,"x":493.9,"y":0.83},{"c":2,"x":498,"y":1},{"c":2,"x":502,"y":0.77},{"c":2,"x":506.1,"y":1.06},{"c":2,"x":510.2,"y":0.83},{"c":2,"x":514.3,"y":1.06},{"c":2,"x":518.4,"y":0.77},{"c":2,"x":522.4,"y":1.51},{"c":2,"x":526.5,"y":1.17},{"c":2,"x":530.6,"y":1.54},{"c":2,"x":534.7,"y":1.29},{"c":2,"x":538.8,"y":1.51},{"c":2,"x":542.8,"y":1.17},{"c":2,"x":546.9,"y":1.57},{"c":2,"x":551,"y":0.83},{"c":2,"x":555.1,"y":1.4},{"c":2,"x":559.2,"y":1},{"c":2,"x":563.2,"y":1.57},{"c":2,"x":567.3,"y":1.29},{"c":2,"x":571.4,"y":1.57},{"c":2,"x":575.5,"y":1.11},{"c":2,"x":579.6,"y":1.57},{"c":2,"x":583.6,"y":1.63},{"c":2,"x":587.7,"y":1.6},{"c":2,"x":591.8,"y":1},{"c":2,"x":595.9,"y":1.97},{"c":2,"x":600,"y":2.66},{"c":2,"x":602,"y":3.11},{"c":2,"x":606.1,"y":2.2},{"c":2,"x":610.2,"y":1.69},{"c":2,"x":614.2,"y":1.86},{"c":2,"x":618.3,"y":2.89},{"c":2,"x":622.4,"y":2.37},{"c":2,"x":626.5,"y":2.89},{"c":2,"x":630.6,"y":1.69},{"c":2,"x":634.6,"y":1.97},{"c":2,"x":638.7,"y":1.63},{"c":2,"x":642.8,"y":1.29},{"c":2,"x":646.9,"y":1},{"c":2,"x":651,"y":0.71},{"c":2,"x":655,"y":0.54},{"c":2,"x":661.2,"y":0.49},{"c":2,"x":667.3,"y":0.6},{"c":2,"x":671.4,"y":0.94},{"c":2,"x":675.4,"y":1.06},{"c":2,"x":679.5,"y":1.4},{"c":2,"x":683.6,"y":1.57},{"c":2,"x":687.7,"y":1.34},{"c":2,"x":691.8,"y":1.91},{"c":2,"x":695.8,"y":1.69},{"c":2,"x":699.9,"y":2.51},{"c":2,"x":704,"y":1.97},{"c":2,"x":708.1,"y":1.34},{"c":2,"x":712.2,"y":2.31},{"c":2,"x":716.2,"y":2.03},{"c":2,"x":720.3,"y":2.31},{"c":2,"x":724.4,"y":2.77},{"c":2,"x":728.5,"y":2.54},{"c":2,"x":732.6,"y":2.94},{"c":2,"x":736.6,"y":2.66},{"c":2,"x":740.7,"y":2.54},{"c":2,"x":744.8,"y":2.77},{"c":2,"x":748.9,"y":3.11},{"c":2,"x":753,"y":3.51},{"c":2,"x":757,"y":3.23},{"c":2,"x":761.1,"y":3.46},{"c":2,"x":765.2,"y":3.11},{"c":2,"x":769.3,"y":3.46},{"c":2,"x":773.4,"y":2.89},{"c":2,"x":777.4,"y":2.49},
      {"c":3,"x":834.6,"y":0.77},{"c":3,"x":838.6,"y":0.94},{"c":3,"x":842.7,"y":1.46},{"c":3,"x":846.8,"y":1.57},{"c":3,"x":850.9,"y":1.17},{"c":3,"x":855,"y":1.51},{"c":3,"x":859,"y":1.83},{"c":3,"x":863.1,"y":1.17},{"c":3,"x":867.2,"y":1.06},{"c":3,"x":871.3,"y":0.83},{"c":3,"x":875.4,"y":0.94},{"c":3,"x":879.4,"y":1.29},{"c":3,"x":883.5,"y":1.11},{"c":3,"x":887.6,"y":0.83},{"c":3,"x":891.7,"y":0.94},{"c":3,"x":895.8,"y":0.77},{"c":3,"x":899.8,"y":0.66},{"c":3,"x":903.9,"y":0.63},{"c":3,"x":908,"y":0.66},{"c":3,"x":912.1,"y":0.71},{"c":3,"x":916.2,"y":0.83},{"c":3,"x":920.2,"y":1.11},{"c":3,"x":924.3,"y":1.34},{"c":3,"x":928.4,"y":1.66},{"c":3,"x":932.5,"y":1.46},{"c":3,"x":936.6,"y":1.29},{"c":3,"x":940.6,"y":1.46},{"c":3,"x":944.7,"y":1.34},{"c":3,"x":948.8,"y":1.17},{"c":3,"x":952.9,"y":1.11},{"c":3,"x":957,"y":0.89},{"c":3,"x":961,"y":1},{"c":3,"x":965.1,"y":0.77},{"c":3,"x":969.2,"y":1.17},{"c":3,"x":973.3,"y":1},{"c":3,"x":977.4,"y":0.77},{"c":3,"x":981.4,"y":1.11},{"c":3,"x":985.5,"y":0.83},{"c":3,"x":989.6,"y":1.11},{"c":3,"x":993.7,"y":0.89},{"c":3,"x":997.8,"y":1.06},{"c":3,"x":1001.8,"y":0.77},{"c":3,"x":1005.9,"y":0.94},{"c":3,"x":1010,"y":1.06},{"c":3,"x":1016.1,"y":1.06},{"c":3,"x":1022.2,"y":1.06},{"c":3,"x":1028.4,"y":1.06},{"c":3,"x":1034.5,"y":1.09},{"c":3,"x":1038.6,"y":1.23},{"c":3,"x":1042.6,"y":1.17},{"c":3,"x":1046.7,"y":1.11},{"c":3,"x":1050.8,"y":1.29},{"c":3,"x":1054.9,"y":1.63},{"c":3,"x":1059,"y":1.97},{"c":3,"x":1063,"y":1.63},{"c":3,"x":1067.1,"y":1.97},{"c":3,"x":1071.2,"y":1.74},{"c":3,"x":1075.3,"y":1.51},{"c":3,"x":1079.4,"y":2.03},{"c":3,"x":1083.4,"y":1.63},{"c":3,"x":1087.5,"y":1.91},{"c":3,"x":1091.6,"y":1.57},{"c":3,"x":1095.7,"y":2.09},{"c":3,"x":1099.8,"y":1.69},{"c":3,"x":1103.8,"y":1.46},{"c":3,"x":1107.9,"y":1.63},{"c":3,"x":1112,"y":1.23},{"c":3,"x":1116.1,"y":1.34},{"c":3,"x":1120.2,"y":1.06},{"c":3,"x":1124.2,"y":1.17},{"c":3,"x":1128.3,"y":0.66},{"c":3,"x":1132.4,"y":0.49},{"c":3,"x":1136.5,"y":0.77},{"c":3,"x":1140.6,"y":1.06},{"c":3,"x":1144.6,"y":0.54},{"c":3,"x":1148.7,"y":0.77},{"c":3,"x":1152.8,"y":0.37},{"c":3,"x":1156.9,"y":1},{"c":3,"x":1161,"y":0.66},{"c":3,"x":1165,"y":0.31},{"c":3,"x":1169.1,"y":1.23},{"c":3,"x":1173.2,"y":0.54},{"c":3,"x":1177.3,"y":0.26},{"c":3,"x":1181.4,"y":0.14},{"c":3,"x":1185.4,"y":0.2},{"c":3,"x":1189.5,"y":0.6},{"c":3,"x":1193.6,"y":0.2},{"c":3,"x":1197.7,"y":0.03},{"c":3,"x":1201.8,"y":0.09},{"c":3,"x":1205.8,"y":0.37},{"c":3,"x":1209.9,"y":0.26},{"c":3,"x":1214,"y":0.49},{"c":3,"x":1218.1,"y":0.31},{"c":3,"x":1222.2,"y":0.43},{"c":3,"x":1226.2,"y":0.71},{"c":3,"x":1230.3,"y":0.54},{"c":3,"x":1234.4,"y":0.66},{"c":3,"x":1236.4,"y":0.43},
      {"c":4,"x":1295.6,"y":0.14},{"c":4,"x":1301.7,"y":0.17},{"c":4,"x":1307.8,"y":0.26},{"c":4,"x":1311.9,"y":0.43},{"c":4,"x":1316,"y":0.26},{"c":4,"x":1320.1,"y":0.31},{"c":4,"x":1324.2,"y":0.2},{"c":4,"x":1328.2,"y":0.31},{"c":4,"x":1332.3,"y":0.26},{"c":4,"x":1336.4,"y":0.54},{"c":4,"x":1340.5,"y":0.6},{"c":4,"x":1344.6,"y":0.43},{"c":4,"x":1348.6,"y":0.26},{"c":4,"x":1352.7,"y":0.37},{"c":4,"x":1356.8,"y":0.31},{"c":4,"x":1360.9,"y":0.14},{"c":4,"x":1365,"y":0.26},{"c":4,"x":1369,"y":0.43},{"c":4,"x":1373.1,"y":0.37},{"c":4,"x":1377.2,"y":0.54},{"c":4,"x":1381.3,"y":0.66},{"c":4,"x":1385.4,"y":0.31},{"c":4,"x":1389.4,"y":0.54},{"c":4,"x":1393.5,"y":0.66},{"c":4,"x":1397.6,"y":0.6},{"c":4,"x":1401.7,"y":0.83},{"c":4,"x":1405.8,"y":0.54},{"c":4,"x":1409.8,"y":0.77},{"c":4,"x":1413.9,"y":0.31},{"c":4,"x":1418,"y":0.71},{"c":4,"x":1422.1,"y":0.6},{"c":4,"x":1426.2,"y":0.49},{"c":4,"x":1430.2,"y":0.66},{"c":4,"x":1434.3,"y":0.83},{"c":4,"x":1438.4,"y":0.89},{"c":4,"x":1442.5,"y":0.66},{"c":4,"x":1446.6,"y":1.06},{"c":4,"x":1450.6,"y":0.71},{"c":4,"x":1454.7,"y":0.94},{"c":4,"x":1458.8,"y":0.83},{"c":4,"x":1462.9,"y":1.11},{"c":4,"x":1467,"y":1.29},{"c":4,"x":1471,"y":1.4},{"c":4,"x":1475.1,"y":1.06},{"c":4,"x":1479.2,"y":1.23},{"c":4,"x":1483.3,"y":1.4},{"c":4,"x":1487.4,"y":1.11},{"c":4,"x":1491.4,"y":0.94},{"c":4,"x":1495.5,"y":0.83},{"c":4,"x":1499.6,"y":1.11},{"c":4,"x":1503.7,"y":1.4},{"c":4,"x":1507.8,"y":1.63},{"c":4,"x":1511.8,"y":1.89},{"c":4,"x":1515.9,"y":1.51},{"c":4,"x":1520,"y":0.83},{"c":4,"x":1524.1,"y":0.6},{"c":4,"x":1528.2,"y":0.43},{"c":4,"x":1532.2,"y":0.4},{"c":4,"x":1536.3,"y":0.31},{"c":4,"x":1540.4,"y":0.14},{"c":4,"x":1544.5,"y":0.03},{"c":4,"x":1550.6,"y":0},{"c":4,"x":1556.7,"y":0.09},{"c":4,"x":1560.8,"y":0.26},{"c":4,"x":1564.9,"y":0.31},{"c":4,"x":1569,"y":0.49},{"c":4,"x":1573,"y":0.54},{"c":4,"x":1577.1,"y":0.6},{"c":4,"x":1581.2,"y":0.31},{"c":4,"x":1587.3,"y":0.26},{"c":4,"x":1592,"y":0.26},{"c":4,"x":1596,"y":0.11},{"c":4,"x":1598,"y":0.34},
      {"c":5,"x":1655,"y":0.37},{"c":5,"x":1658,"y":0.26},{"c":5,"x":1662,"y":0.54},{"c":5,"x":1666,"y":0.71},{"c":5,"x":1670,"y":0.31},{"c":5,"x":1674,"y":0.54},{"c":5,"x":1678,"y":0.89},{"c":5,"x":1682,"y":0.37},{"c":5,"x":1686,"y":0.49},{"c":5,"x":1690,"y":0.37},{"c":5,"x":1694,"y":0.43},{"c":5,"x":1698,"y":0.31},{"c":5,"x":1702,"y":0.49},{"c":5,"x":1706,"y":0.37},{"c":5,"x":1710,"y":0.54},{"c":5,"x":1714,"y":0.49},{"c":5,"x":1718,"y":0.6},{"c":5,"x":1722,"y":0.66},{"c":5,"x":1726,"y":0.83},{"c":5,"x":1730,"y":0.77},{"c":5,"x":1734,"y":0.94},{"c":5,"x":1738,"y":1.17},{"c":5,"x":1742,"y":1.11},{"c":5,"x":1746,"y":1.4},{"c":5,"x":1750,"y":1.29},{"c":5,"x":1754,"y":1.54},{"c":5,"x":1758,"y":1.4},{"c":5,"x":1762,"y":1.06},{"c":5,"x":1766,"y":1.17},{"c":5,"x":1770,"y":0.57},{"c":5,"x":1774,"y":1.06},{"c":5,"x":1778,"y":0.89},{"c":5,"x":1782,"y":0.83},{"c":5,"x":1788,"y":0.77},{"c":5,"x":1796,"y":0.71},{"c":5,"x":1804,"y":0.66},{"c":5,"x":1812,"y":0.6},{"c":5,"x":1816,"y":0.66},{"c":5,"x":1820,"y":0.83},{"c":5,"x":1824,"y":1},{"c":5,"x":1828,"y":0.49},{"c":5,"x":1832,"y":1.06},{"c":5,"x":1836,"y":0.71},{"c":5,"x":1840,"y":1},{"c":5,"x":1844,"y":0.54},{"c":5,"x":1848,"y":0.83},{"c":5,"x":1852,"y":1.4},{"c":5,"x":1856,"y":0.49},{"c":5,"x":1860,"y":0.89},{"c":5,"x":1864,"y":0.71},{"c":5,"x":1868,"y":0.54},{"c":5,"x":1872,"y":0.83},{"c":5,"x":1876,"y":1},{"c":5,"x":1880,"y":1.4},{"c":5,"x":1884,"y":1.17},{"c":5,"x":1888,"y":1.06},{"c":5,"x":1892,"y":0.83},{"c":5,"x":1896,"y":0.66},{"c":5,"x":1900,"y":0.94},{"c":5,"x":1904,"y":0.83},{"c":5,"x":1908,"y":0.54},{"c":5,"x":1912,"y":0.14},{"c":5,"x":1916,"y":0.26},{"c":5,"x":1920,"y":0.6},{"c":5,"x":1924,"y":0.14},{"c":5,"x":1928,"y":0.09},{"c":5,"x":1932,"y":0.14},{"c":5,"x":1936,"y":0.09},{"c":5,"x":1940,"y":0.03},{"c":5,"x":1944,"y":0.06},{"c":5,"x":1948,"y":0.03},{"c":5,"x":1950,"y":0},
      {"c":6,"x":2008,"y":1.06},{"c":6,"x":2012,"y":0.83},{"c":6,"x":2016,"y":0.43},{"c":6,"x":2020,"y":0.6},{"c":6,"x":2024,"y":0.77},{"c":6,"x":2028,"y":1},{"c":6,"x":2032,"y":0.6},{"c":6,"x":2036,"y":0.94},{"c":6,"x":2040,"y":0.83},{"c":6,"x":2044,"y":0.43},{"c":6,"x":2048,"y":1.06},{"c":6,"x":2052,"y":1.17},{"c":6,"x":2056,"y":1.69},{"c":6,"x":2060,"y":1.8},{"c":6,"x":2064,"y":1.11},{"c":6,"x":2068,"y":1.51},{"c":6,"x":2072,"y":1.63},{"c":6,"x":2076,"y":1.29},{"c":6,"x":2080,"y":0.83},{"c":6,"x":2084,"y":1.17},{"c":6,"x":2088,"y":1.63},{"c":6,"x":2092,"y":1.4},{"c":6,"x":2096,"y":2.03},{"c":6,"x":2100,"y":1.8},{"c":6,"x":2104,"y":2.03},{"c":6,"x":2108,"y":1.4},{"c":6,"x":2112,"y":1.51},{"c":6,"x":2116,"y":1.63},{"c":6,"x":2120,"y":1.57},{"c":6,"x":2124,"y":1.63},{"c":6,"x":2128,"y":1.69},{"c":6,"x":2132,"y":1.63},{"c":6,"x":2136,"y":1.74},{"c":6,"x":2140,"y":1.8},{"c":6,"x":2144,"y":1.57},{"c":6,"x":2148,"y":1.74},{"c":6,"x":2152,"y":2.29},{"c":6,"x":2156,"y":2.09},{"c":6,"x":2160,"y":2.26},{"c":6,"x":2164,"y":1.69},{"c":6,"x":2168,"y":0.94},{"c":6,"x":2172,"y":1.4},{"c":6,"x":2176,"y":1},{"c":6,"x":2180,"y":0.83},{"c":6,"x":2184,"y":1.06},{"c":6,"x":2188,"y":1.51},{"c":6,"x":2192,"y":0.71},{"c":6,"x":2196,"y":0.43},{"c":6,"x":2200,"y":0.89},{"c":6,"x":2204,"y":0.6},{"c":6,"x":2208,"y":0.43},{"c":6,"x":2212,"y":0.91},{"c":6,"x":2216,"y":0.54},{"c":6,"x":2220,"y":0.89},{"c":6,"x":2224,"y":0.43},{"c":6,"x":2228,"y":0.6},{"c":6,"x":2232,"y":0.83},{"c":6,"x":2236,"y":1.11},{"c":6,"x":2240,"y":1.29},{"c":6,"x":2244,"y":1.06},{"c":6,"x":2248,"y":0.94},{"c":6,"x":2252,"y":1.11},{"c":6,"x":2256,"y":0.83},{"c":6,"x":2260,"y":0.6},{"c":6,"x":2264,"y":0.43},{"c":6,"x":2268,"y":0.66},{"c":6,"x":2272,"y":0.94},{"c":6,"x":2276,"y":1.11},{"c":6,"x":2280,"y":1.23},{"c":6,"x":2284,"y":1.06},{"c":6,"x":2288,"y":1.29},{"c":6,"x":2292,"y":1.34},{"c":6,"x":2296,"y":1.11},{"c":6,"x":2300,"y":0.94},{"c":6,"x":2304,"y":0.83},{"c":6,"x":2308,"y":0.46},
      {"c":7,"x":2368,"y":0.06},{"c":7,"x":2372,"y":0.31},{"c":7,"x":2376,"y":0.43},{"c":7,"x":2380,"y":0.37},{"c":7,"x":2384,"y":0.26},{"c":7,"x":2388,"y":0.09},{"c":7,"x":2392,"y":0.2},{"c":7,"x":2396,"y":0.14},{"c":7,"x":2400,"y":0.03},{"c":7,"x":2404,"y":0.26},{"c":7,"x":2408,"y":0.49},{"c":7,"x":2412,"y":0.71},{"c":7,"x":2416,"y":0.86},{"c":7,"x":2420,"y":0.31},{"c":7,"x":2424,"y":0.6},{"c":7,"x":2428,"y":0.2},{"c":7,"x":2432,"y":0.54},{"c":7,"x":2436,"y":0.66},{"c":7,"x":2440,"y":0.49},{"c":7,"x":2444,"y":0.54},{"c":7,"x":2448,"y":0.26},{"c":7,"x":2452,"y":0.54},{"c":7,"x":2456,"y":0.14},{"c":7,"x":2460,"y":0.49},{"c":7,"x":2464,"y":0.31},{"c":7,"x":2468,"y":0.09},{"c":7,"x":2472,"y":0.86},{"c":7,"x":2476,"y":0.26},{"c":7,"x":2480,"y":0.09},{"c":7,"x":2484,"y":0.26},{"c":7,"x":2488,"y":0.46},{"c":7,"x":2492,"y":0.37},{"c":7,"x":2496,"y":0.14},{"c":7,"x":2500,"y":0.31},{"c":7,"x":2504,"y":0.26},{"c":7,"x":2508,"y":0.74},{"c":7,"x":2512,"y":0.14},{"c":7,"x":2516,"y":0.31},{"c":7,"x":2520,"y":0.26},{"c":7,"x":2524,"y":0.2},{"c":7,"x":2528,"y":0.29},{"c":7,"x":2532,"y":0.2},{"c":7,"x":2536,"y":0.26},{"c":7,"x":2540,"y":0.14},{"c":7,"x":2544,"y":0.26},{"c":7,"x":2548,"y":0.2},{"c":7,"x":2552,"y":0.09},{"c":7,"x":2556,"y":0.26},{"c":7,"x":2560,"y":0.66},{"c":7,"x":2564,"y":1},{"c":7,"x":2568,"y":0.31},{"c":7,"x":2572,"y":0.2},{"c":7,"x":2576,"y":0.14},{"c":7,"x":2580,"y":0.06},{"c":7,"x":2584,"y":0.03},{"c":7,"x":2588,"y":0.03},{"c":7,"x":2594,"y":0.03},{"c":7,"x":2600,"y":0.06},{"c":7,"x":2606,"y":0.09},{"c":7,"x":2612,"y":0.14},{"c":7,"x":2616,"y":0.2},{"c":7,"x":2620,"y":0.26},{"c":7,"x":2624,"y":0.37},{"c":7,"x":2628,"y":0.57},{"c":7,"x":2632,"y":0.31},{"c":7,"x":2636,"y":0.14},{"c":7,"x":2640,"y":0.2},
      {"c":8,"x":2696,"y":0.97},{"c":8,"x":2700,"y":1.06},{"c":8,"x":2704,"y":1.31},{"c":8,"x":2708,"y":0.94},{"c":8,"x":2712,"y":0.83},{"c":8,"x":2716,"y":0.94},{"c":8,"x":2720,"y":0.31},{"c":8,"x":2724,"y":0.49},{"c":8,"x":2728,"y":0.89},{"c":8,"x":2732,"y":0.6},{"c":8,"x":2736,"y":0.31},{"c":8,"x":2740,"y":0.14},{"c":8,"x":2744,"y":0.2},{"c":8,"x":2748,"y":0.11},{"c":8,"x":2754,"y":0.09},{"c":8,"x":2760,"y":0.09},{"c":8,"x":2766,"y":0.03},{"c":8,"x":2772,"y":0.06},{"c":8,"x":2778,"y":0.09},{"c":8,"x":2784,"y":0.03},{"c":8,"x":2790,"y":0.11},{"c":8,"x":2796,"y":0.06},{"c":8,"x":2800,"y":0.14},{"c":8,"x":2804,"y":0.03},{"c":8,"x":2808,"y":0.09},{"c":8,"x":2814,"y":0.2},{"c":8,"x":2818,"y":0.29},{"c":8,"x":2822,"y":0.14},{"c":8,"x":2826,"y":0.26},{"c":8,"x":2830,"y":0.2},{"c":8,"x":2834,"y":0.26},{"c":8,"x":2838,"y":0.09},{"c":8,"x":2842,"y":0.29},{"c":8,"x":2846,"y":0.2},{"c":8,"x":2850,"y":0.06},{"c":8,"x":2856,"y":0.06},{"c":8,"x":2862,"y":0.09},{"c":8,"x":2868,"y":0.06},{"c":8,"x":2874,"y":0.09},{"c":8,"x":2878,"y":0.14},{"c":8,"x":2882,"y":0.26},{"c":8,"x":2886,"y":0.49},{"c":8,"x":2890,"y":0.54},{"c":8,"x":2894,"y":0.77},{"c":8,"x":2898,"y":0.89},{"c":8,"x":2902,"y":0.66},{"c":8,"x":2906,"y":0.94},{"c":8,"x":2910,"y":1.11},{"c":8,"x":2914,"y":1.4},{"c":8,"x":2918,"y":1.4},{"c":8,"x":2922,"y":1.57},{"c":8,"x":2926,"y":1.91},{"c":8,"x":2930,"y":1.63},{"c":8,"x":2934,"y":1.97},{"c":8,"x":2938,"y":1.46},{"c":8,"x":2942,"y":2.03},{"c":8,"x":2946,"y":2.2},{"c":8,"x":2950,"y":2.71},{"c":8,"x":2954,"y":2.54},{"c":8,"x":2958,"y":2.2},{"c":8,"x":2962,"y":2.66},{"c":8,"x":2966,"y":2.77},{"c":8,"x":2970,"y":2.26},{"c":8,"x":2974,"y":1.8},{"c":8,"x":2978,"y":2.26},{"c":8,"x":2982,"y":1.69},{"c":8,"x":2986,"y":2.54},{"c":8,"x":2990,"y":1.97},{"c":8,"x":2994,"y":2.6},{"c":8,"x":2998,"y":1.97},{"c":8,"x":3002,"y":1.86},{"c":8,"x":3006,"y":2.26},{"c":8,"x":3010,"y":2.77},{"c":8,"x":3014,"y":3.46},{"c":8,"x":3018,"y":3.23},{"c":8,"x":3022,"y":3.34},{"c":8,"x":3026,"y":2.94},{"c":8,"x":3030,"y":2.71},{"c":8,"x":3034,"y":1.97},{"c":8,"x":3038,"y":1.23},{"c":8,"x":3048,"y":1.17},{"c":8,"x":3058,"y":1.2},{"c":8,"x":3068,"y":1.14},{"c":8,"x":3078,"y":1.09},{"c":8,"x":3088,"y":1.03},{"c":8,"x":3096,"y":0.97},
      {"c":9,"x":3155,"y":1.29},{"c":9,"x":3158,"y":1.51},{"c":9,"x":3162,"y":1.91},{"c":9,"x":3166,"y":2.43},{"c":9,"x":3168,"y":3},{"c":9,"x":3172,"y":2.31},{"c":9,"x":3176,"y":3},{"c":9,"x":3180,"y":3.23},{"c":9,"x":3184,"y":3.34},{"c":9,"x":3188,"y":4.03},{"c":9,"x":3192,"y":5.29},{"c":9,"x":3196,"y":5.86},{"c":9,"x":3200,"y":5.51},{"c":9,"x":3204,"y":5.06},{"c":9,"x":3208,"y":3.74},{"c":9,"x":3212,"y":4.49},{"c":9,"x":3216,"y":5.29},{"c":9,"x":3220,"y":6.31},{"c":9,"x":3222,"y":6.37},{"c":9,"x":3226,"y":5.8},{"c":9,"x":3230,"y":5},{"c":9,"x":3234,"y":4.71},{"c":9,"x":3238,"y":4.09},{"c":9,"x":3242,"y":3.8},{"c":9,"x":3246,"y":3.29},{"c":9,"x":3250,"y":2.77},{"c":9,"x":3254,"y":2.26},{"c":9,"x":3258,"y":2.14},{"c":9,"x":3262,"y":1.86},{"c":9,"x":3266,"y":2.49},{"c":9,"x":3270,"y":2.37},{"c":9,"x":3274,"y":2.54},{"c":9,"x":3278,"y":2.77},{"c":9,"x":3282,"y":1.69},{"c":9,"x":3286,"y":2.03},{"c":9,"x":3290,"y":1.86},{"c":9,"x":3294,"y":2.2},{"c":9,"x":3298,"y":1.69},{"c":9,"x":3302,"y":1.51},{"c":9,"x":3306,"y":1.4},{"c":9,"x":3310,"y":1.23},{"c":9,"x":3314,"y":1},{"c":9,"x":3318,"y":0.89},{"c":9,"x":3322,"y":0.83},{"c":9,"x":3326,"y":0.94},{"c":9,"x":3330,"y":0.77},{"c":9,"x":3334,"y":0.66},{"c":9,"x":3338,"y":0.71},{"c":9,"x":3342,"y":0.54},{"c":9,"x":3346,"y":0.66},{"c":9,"x":3350,"y":0.94},{"c":9,"x":3354,"y":0.49},{"c":9,"x":3358,"y":0.31},{"c":9,"x":3362,"y":0.37},{"c":9,"x":3366,"y":0.26},{"c":9,"x":3370,"y":0.31},{"c":9,"x":3374,"y":0.26},{"c":9,"x":3378,"y":0.31},{"c":9,"x":3382,"y":0.66},{"c":9,"x":3386,"y":0.26},{"c":9,"x":3390,"y":0.14},{"c":9,"x":3394,"y":0.03},{"c":9,"x":3398,"y":0.09},{"c":9,"x":3402,"y":0.14},{"c":9,"x":3406,"y":0.09},{"c":9,"x":3410,"y":0.2},{"c":9,"x":3414,"y":0.26},{"c":9,"x":3418,"y":0.2},{"c":9,"x":3422,"y":0.26},{"c":9,"x":3426,"y":0.37},{"c":9,"x":3430,"y":0.6},{"c":9,"x":3434,"y":0.26},{"c":9,"x":3438,"y":0.09},{"c":9,"x":3442,"y":0},{"c":9,"x":3448,"y":0.03},{"c":9,"x":3454,"y":0.06},{"c":9,"x":3462,"y":0.04},
      {"c":10,"x":3518,"y":0.31},{"c":10,"x":3522,"y":0.14},{"c":10,"x":3526,"y":0.37},{"c":10,"x":3530,"y":0.49},{"c":10,"x":3534,"y":0.26},{"c":10,"x":3538,"y":0.71},{"c":10,"x":3542,"y":0.94},{"c":10,"x":3546,"y":0.54},{"c":10,"x":3550,"y":0.66},{"c":10,"x":3554,"y":0.37},{"c":10,"x":3558,"y":0.49},{"c":10,"x":3562,"y":0.26},{"c":10,"x":3566,"y":0.37},{"c":10,"x":3570,"y":0.14},{"c":10,"x":3574,"y":0.31},{"c":10,"x":3578,"y":0.66},{"c":10,"x":3582,"y":0.83},{"c":10,"x":3586,"y":1},{"c":10,"x":3590,"y":0.83},{"c":10,"x":3594,"y":1.11},{"c":10,"x":3598,"y":0.89},{"c":10,"x":3602,"y":1.06},{"c":10,"x":3606,"y":0.83},{"c":10,"x":3610,"y":0.77},{"c":10,"x":3614,"y":0.66},{"c":10,"x":3618,"y":0.83},{"c":10,"x":3622,"y":0.71},{"c":10,"x":3626,"y":0.94},{"c":10,"x":3630,"y":0.71},{"c":10,"x":3634,"y":1.17},{"c":10,"x":3638,"y":0.83},{"c":10,"x":3642,"y":0.6},{"c":10,"x":3646,"y":0.2},{"c":10,"x":3650,"y":0.37},{"c":10,"x":3654,"y":0.26},{"c":10,"x":3658,"y":0.66},{"c":10,"x":3662,"y":0.94},{"c":10,"x":3666,"y":0.83},{"c":10,"x":3670,"y":0.89},{"c":10,"x":3674,"y":0.71},{"c":10,"x":3678,"y":0.94},{"c":10,"x":3682,"y":0.6},{"c":10,"x":3686,"y":1.11},{"c":10,"x":3690,"y":1.29},{"c":10,"x":3694,"y":1.51},{"c":10,"x":3698,"y":2.2},{"c":10,"x":3702,"y":3},{"c":10,"x":3706,"y":2.43},{"c":10,"x":3710,"y":1.74},{"c":10,"x":3714,"y":1.11},{"c":10,"x":3718,"y":0.66},{"c":10,"x":3722,"y":0.49},{"c":10,"x":3726,"y":0.31},{"c":10,"x":3730,"y":0.26},{"c":10,"x":3734,"y":0.2},{"c":10,"x":3738,"y":0.26},{"c":10,"x":3742,"y":0.2},{"c":10,"x":3746,"y":0.31},{"c":10,"x":3750,"y":0.2},{"c":10,"x":3754,"y":0.26},{"c":10,"x":3758,"y":0.14},{"c":10,"x":3762,"y":0.37},{"c":10,"x":3766,"y":0.6},{"c":10,"x":3770,"y":0.66},{"c":10,"x":3774,"y":0.49},{"c":10,"x":3778,"y":0.26},{"c":10,"x":3782,"y":0.09},{"c":10,"x":3786,"y":0.03},{"c":10,"x":3790,"y":0.09},{"c":10,"x":3794,"y":0.14},{"c":10,"x":3798,"y":0.2},{"c":10,"x":3802,"y":0.37},{"c":10,"x":3806,"y":0.49},{"c":10,"x":3810,"y":0.26},
      {"c":11,"x":3868,"y":1},{"c":11,"x":3872,"y":1.34},{"c":11,"x":3876,"y":1},{"c":11,"x":3880,"y":1.23},{"c":11,"x":3884,"y":0.71},{"c":11,"x":3888,"y":1.11},{"c":11,"x":3892,"y":0.94},{"c":11,"x":3896,"y":0.71},{"c":11,"x":3900,"y":1.06},{"c":11,"x":3904,"y":1.34},{"c":11,"x":3908,"y":1.51},{"c":11,"x":3912,"y":1.23},{"c":11,"x":3916,"y":0.83},{"c":11,"x":3920,"y":0.94},{"c":11,"x":3924,"y":0.77},{"c":11,"x":3928,"y":1},{"c":11,"x":3932,"y":0.83},{"c":11,"x":3936,"y":0.94},{"c":11,"x":3940,"y":0.66},{"c":11,"x":3944,"y":1},{"c":11,"x":3948,"y":0.66},{"c":11,"x":3952,"y":0.83},{"c":11,"x":3956,"y":0.37},{"c":11,"x":3960,"y":0.26},{"c":11,"x":3964,"y":0.2},{"c":11,"x":3968,"y":0.26},{"c":11,"x":3972,"y":0.6},{"c":11,"x":3976,"y":0.89},{"c":11,"x":3980,"y":1.06},{"c":11,"x":3984,"y":0.94},{"c":11,"x":3988,"y":0.66},{"c":11,"x":3992,"y":0.2},{"c":11,"x":3996,"y":0.6},{"c":11,"x":4000,"y":1.06},{"c":11,"x":4004,"y":1.34},{"c":11,"x":4008,"y":1.17},{"c":11,"x":4012,"y":1.4},{"c":11,"x":4016,"y":1.11},{"c":11,"x":4020,"y":1.4},{"c":11,"x":4024,"y":1.29},{"c":11,"x":4028,"y":1.51},{"c":11,"x":4032,"y":1.29},{"c":11,"x":4036,"y":0.89},{"c":11,"x":4040,"y":1.11},{"c":11,"x":4044,"y":0.83},{"c":11,"x":4048,"y":1.06},{"c":11,"x":4052,"y":0.71},{"c":11,"x":4056,"y":0.49},{"c":11,"x":4060,"y":0.2},{"c":11,"x":4064,"y":0.66},{"c":11,"x":4068,"y":0.89},{"c":11,"x":4072,"y":0.94},{"c":11,"x":4076,"y":1.23},{"c":11,"x":4080,"y":1.57},{"c":11,"x":4084,"y":1.74},{"c":11,"x":4088,"y":2.03},{"c":11,"x":4092,"y":2.31},{"c":11,"x":4096,"y":1.97},{"c":11,"x":4100,"y":2.31},{"c":11,"x":4104,"y":2.66},{"c":11,"x":4108,"y":2.94},{"c":11,"x":4112,"y":3.17},{"c":11,"x":4114,"y":3.46},{"c":11,"x":4117,"y":3.69},
      {"c":12,"x":4174,"y":0.43},{"c":12,"x":4178,"y":0.54},{"c":12,"x":4182,"y":0.26},{"c":12,"x":4186,"y":0.71},{"c":12,"x":4190,"y":1.06},{"c":12,"x":4194,"y":0.83},{"c":12,"x":4198,"y":0.54},{"c":12,"x":4202,"y":0.31},{"c":12,"x":4206,"y":0.43},{"c":12,"x":4210,"y":0.6},{"c":12,"x":4214,"y":0.83},{"c":12,"x":4218,"y":1.06},{"c":12,"x":4222,"y":1.29},{"c":12,"x":4226,"y":1.57},{"c":12,"x":4230,"y":1.17},{"c":12,"x":4234,"y":1.63},{"c":12,"x":4238,"y":1.51},{"c":12,"x":4242,"y":1.97},{"c":12,"x":4246,"y":2.31},{"c":12,"x":4250,"y":2.2},{"c":12,"x":4254,"y":1.51},{"c":12,"x":4258,"y":1.17},{"c":12,"x":4262,"y":1.29},{"c":12,"x":4266,"y":1.06},{"c":12,"x":4270,"y":1.4},{"c":12,"x":4274,"y":1.11},{"c":12,"x":4278,"y":1},{"c":12,"x":4282,"y":0.94},{"c":12,"x":4288,"y":0.89},{"c":12,"x":4294,"y":0.83},{"c":12,"x":4300,"y":0.77},{"c":12,"x":4306,"y":0.71},{"c":12,"x":4312,"y":0.54},{"c":12,"x":4316,"y":0.66},{"c":12,"x":4320,"y":0.49},{"c":12,"x":4324,"y":0.83},{"c":12,"x":4328,"y":1.06},{"c":12,"x":4332,"y":0.94},{"c":12,"x":4336,"y":0.71},{"c":12,"x":4340,"y":0.6},{"c":12,"x":4344,"y":0.49},{"c":12,"x":4348,"y":0.37},{"c":12,"x":4352,"y":0.26},{"c":12,"x":4356,"y":0.14},{"c":12,"x":4360,"y":0.26},{"c":12,"x":4364,"y":0.54},{"c":12,"x":4368,"y":0.6},{"c":12,"x":4372,"y":0.77},{"c":12,"x":4376,"y":0.94},{"c":12,"x":4380,"y":1.23},{"c":12,"x":4384,"y":1.06},{"c":12,"x":4388,"y":1.4},{"c":12,"x":4392,"y":1.11},{"c":12,"x":4396,"y":1.29},{"c":12,"x":4400,"y":1.06},{"c":12,"x":4404,"y":1.29},{"c":12,"x":4408,"y":0.94},{"c":12,"x":4412,"y":1.4},{"c":12,"x":4416,"y":1.57},{"c":12,"x":4420,"y":0.54},{"c":12,"x":4424,"y":1.11},{"c":12,"x":4428,"y":1.17},{"c":12,"x":4432,"y":1.06},{"c":12,"x":4436,"y":0.94},{"c":12,"x":4440,"y":0.83},{"c":12,"x":4444,"y":0.66},{"c":12,"x":4448,"y":0.49},{"c":12,"x":4452,"y":0.26},{"c":12,"x":4456,"y":0.83},{"c":12,"x":4460,"y":0.37},{"c":12,"x":4464,"y":0.2},{"c":12,"x":4468,"y":0.26},{"c":12,"x":4472,"y":0.14},{"c":12,"x":4476,"y":0.09},{"c":12,"x":4480,"y":0.03},{"c":12,"x":4484,"y":0.26},{"c":12,"x":4488,"y":0.43},{"c":12,"x":4492,"y":0.37},{"c":12,"x":4496,"y":0.54},{"c":12,"x":4500,"y":0.66},{"c":12,"x":4504,"y":0.6},{"c":12,"x":4508,"y":0.83},{"c":12,"x":4512,"y":1.34},{"c":12,"x":4516,"y":1.74},{"c":12,"x":4520,"y":1.11},{"c":12,"x":4524,"y":0.89},{"c":12,"x":4528,"y":1.06},{"c":12,"x":4532,"y":1},{"c":12,"x":4536,"y":1.23},{"c":12,"x":4540,"y":1.54},{"c":12,"x":4544,"y":1.11},{"c":12,"x":4548,"y":0.83},{"c":12,"x":4552,"y":1.46},{"c":12,"x":4556,"y":1.23},{"c":12,"x":4560,"y":1.4},{"c":12,"x":4562,"y":1.17}
    ],
    "C": [
      {"c":1,"x":30.8,"y":1.6},{"c":1,"x":34.9,"y":1.19},{"c":1,"x":39,"y":0.89},{"c":1,"x":43,"y":1.09},{"c":1,"x":47.1,"y":1.63},{"c":1,"x":51.2,"y":1.48},{"c":1,"x":55.3,"y":1.23},{"c":1,"x":57.3,"y":1.48},{"c":1,"x":61.4,"y":1.04},{"c":1,"x":65.5,"y":0.79},{"c":1,"x":69.6,"y":0.54},{"c":1,"x":73.6,"y":0.81},{"c":1,"x":77.7,"y":0.64},{"c":1,"x":81.8,"y":0.49},{"c":1,"x":85.9,"y":0.74},{"c":1,"x":90,"y":0.44},{"c":1,"x":94,"y":0.69},{"c":1,"x":98.1,"y":0.54},{"c":1,"x":102.2,"y":0.4},{"c":1,"x":106.3,"y":0.3},{"c":1,"x":110.4,"y":0.35},{"c":1,"x":114.4,"y":0.32},{"c":1,"x":118.5,"y":0.37},{"c":1,"x":122.6,"y":0.35},{"c":1,"x":126.7,"y":0.4},{"c":1,"x":130.8,"y":0.59},{"c":1,"x":134.8,"y":0.89},{"c":1,"x":138.9,"y":0.54},{"c":1,"x":143,"y":0.3},{"c":1,"x":147.1,"y":0.2},{"c":1,"x":151.2,"y":0.15},{"c":1,"x":155.2,"y":0.25},{"c":1,"x":159.3,"y":0.3},{"c":1,"x":163.4,"y":0.25},{"c":1,"x":167.5,"y":0.49},{"c":1,"x":171.6,"y":0.44},{"c":1,"x":175.6,"y":0.3},{"c":1,"x":179.7,"y":0.4},{"c":1,"x":183.8,"y":0.44},{"c":1,"x":187.9,"y":0.3},{"c":1,"x":192,"y":0.4},{"c":1,"x":196,"y":0.3},{"c":1,"x":200.1,"y":0.44},{"c":1,"x":204.2,"y":0.35},{"c":1,"x":208.3,"y":0.44},{"c":1,"x":212.4,"y":0.4},{"c":1,"x":216.4,"y":0.49},{"c":1,"x":220.5,"y":0.59},{"c":1,"x":224.6,"y":0.79},{"c":1,"x":228.7,"y":1.09},{"c":1,"x":232.8,"y":1.33},{"c":1,"x":236.8,"y":1.14},{"c":1,"x":240.9,"y":0.99},{"c":1,"x":245,"y":0.94},{"c":1,"x":249.1,"y":0.79},{"c":1,"x":253.2,"y":0.64},{"c":1,"x":257.2,"y":0.49},{"c":1,"x":261.3,"y":0.4},{"c":1,"x":265.4,"y":0.3},{"c":1,"x":269.5,"y":0.15},{"c":1,"x":273.6,"y":0.05},{"c":1,"x":277.6,"y":0.1},{"c":1,"x":281.7,"y":0.02},{"c":1,"x":285.8,"y":0.15},{"c":1,"x":289.9,"y":0.07},{"c":1,"x":294,"y":0.2},{"c":1,"x":298,"y":0.05},{"c":1,"x":302.1,"y":0.15},{"c":1,"x":306.2,"y":0.2},{"c":1,"x":310.3,"y":0.1},{"c":1,"x":314.4,"y":0.2},{"c":1,"x":318.4,"y":0.1},{"c":1,"x":322.5,"y":0.25},{"c":1,"x":326.6,"y":0.12},{"c":1,"x":330.7,"y":0.05},{"c":1,"x":334.8,"y":0.1},{"c":1,"x":338.8,"y":0.07},{"c":1,"x":342.9,"y":0.2},{"c":1,"x":347,"y":0.54},{"c":1,"x":351.1,"y":0.69},{"c":1,"x":355.2,"y":0.79},{"c":1,"x":359.2,"y":0.99},{"c":1,"x":363.3,"y":0.74},{"c":1,"x":367.4,"y":0.64},{"c":1,"x":371.5,"y":0.54},{"c":1,"x":375.6,"y":0.44},{"c":1,"x":379.6,"y":0.15},{"c":1,"x":383.7,"y":0.49},{"c":1,"x":387.8,"y":0.64},{"c":1,"x":391.9,"y":0.54},{"c":1,"x":396,"y":0.79},{"c":1,"x":402.1,"y":0.72},
      {"c":2,"x":461.2,"y":0.22},{"c":2,"x":465.3,"y":0.59},{"c":2,"x":469.4,"y":0.67},{"c":2,"x":473.5,"y":0.3},{"c":2,"x":477.6,"y":0.44},{"c":2,"x":481.6,"y":0.12},{"c":2,"x":485.7,"y":0.44},{"c":2,"x":489.8,"y":0.59},{"c":2,"x":493.9,"y":0.49},{"c":2,"x":498,"y":0.69},{"c":2,"x":502,"y":0.74},{"c":2,"x":506.1,"y":0.44},{"c":2,"x":510.2,"y":0.54},{"c":2,"x":514.3,"y":0.35},{"c":2,"x":518.4,"y":0.59},{"c":2,"x":522.4,"y":1.04},{"c":2,"x":526.5,"y":1.43},{"c":2,"x":530.6,"y":1.58},{"c":2,"x":534.7,"y":1.19},{"c":2,"x":538.8,"y":1.28},{"c":2,"x":542.8,"y":1.04},{"c":2,"x":546.9,"y":1.63},{"c":2,"x":551,"y":1.38},{"c":2,"x":555.1,"y":1.9},{"c":2,"x":559.2,"y":1.04},{"c":2,"x":563.2,"y":1.14},{"c":2,"x":567.3,"y":0.94},{"c":2,"x":571.4,"y":1.09},{"c":2,"x":575.5,"y":0.84},{"c":2,"x":579.6,"y":0.99},{"c":2,"x":583.6,"y":0.79},{"c":2,"x":587.7,"y":0.94},{"c":2,"x":591.8,"y":0.84},{"c":2,"x":595.9,"y":1.38},{"c":2,"x":600,"y":2.32},{"c":2,"x":604,"y":1.78},{"c":2,"x":608.1,"y":1.63},{"c":2,"x":612.2,"y":1.38},{"c":2,"x":616.3,"y":1.8},{"c":2,"x":620.4,"y":1.53},{"c":2,"x":624.4,"y":1.8},{"c":2,"x":628.5,"y":1.53},{"c":2,"x":632.6,"y":1.28},{"c":2,"x":636.7,"y":0.79},{"c":2,"x":640.8,"y":0.44},{"c":2,"x":644.8,"y":0.35},{"c":2,"x":651,"y":0.3},{"c":2,"x":657.1,"y":0.25},{"c":2,"x":663.2,"y":0.3},{"c":2,"x":669.3,"y":0.25},{"c":2,"x":675.4,"y":0.2},{"c":2,"x":679.5,"y":0.54},{"c":2,"x":683.6,"y":1.28},{"c":2,"x":687.7,"y":1.38},{"c":2,"x":691.8,"y":1.23},{"c":2,"x":695.8,"y":1.58},{"c":2,"x":699.9,"y":1.78},{"c":2,"x":704,"y":1.38},{"c":2,"x":708.1,"y":1.28},{"c":2,"x":712.2,"y":1.38},{"c":2,"x":716.2,"y":1.68},{"c":2,"x":720.3,"y":1.98},{"c":2,"x":724.4,"y":2.22},{"c":2,"x":728.5,"y":1.88},{"c":2,"x":732.6,"y":1.78},{"c":2,"x":736.6,"y":1.58},{"c":2,"x":740.7,"y":1.38},{"c":2,"x":744.8,"y":1.19},{"c":2,"x":748.9,"y":1.53},{"c":2,"x":753,"y":2.02},{"c":2,"x":757,"y":2.22},{"c":2,"x":761.1,"y":2.47},{"c":2,"x":765.2,"y":2.52},{"c":2,"x":769.3,"y":2.37},{"c":2,"x":773.4,"y":1.98},{"c":2,"x":777.4,"y":1.48},
      {"c":3,"x":834.6,"y":1.53},{"c":3,"x":838.6,"y":1.14},{"c":3,"x":842.7,"y":1.38},{"c":3,"x":846.8,"y":1.14},{"c":3,"x":850.9,"y":1.48},{"c":3,"x":855,"y":1.28},{"c":3,"x":859,"y":1.83},{"c":3,"x":863.1,"y":1.38},{"c":3,"x":867.2,"y":1.68},{"c":3,"x":871.3,"y":1.28},{"c":3,"x":875.4,"y":1.48},{"c":3,"x":879.4,"y":1.58},{"c":3,"x":883.5,"y":1.28},{"c":3,"x":887.6,"y":1.14},{"c":3,"x":891.7,"y":1.19},{"c":3,"x":895.8,"y":1.09},{"c":3,"x":899.8,"y":1.04},{"c":3,"x":903.9,"y":0.99},{"c":3,"x":908,"y":0.94},{"c":3,"x":912.1,"y":0.99},{"c":3,"x":916.2,"y":1.09},{"c":3,"x":920.2,"y":1.14},{"c":3,"x":924.3,"y":1.53},{"c":3,"x":928.4,"y":1.93},{"c":3,"x":932.5,"y":1.78},{"c":3,"x":936.6,"y":1.63},{"c":3,"x":940.6,"y":1.48},{"c":3,"x":944.7,"y":1.58},{"c":3,"x":948.8,"y":1.33},{"c":3,"x":952.9,"y":1.83},{"c":3,"x":957,"y":1.53},{"c":3,"x":961,"y":1.78},{"c":3,"x":965.1,"y":1.48},{"c":3,"x":969.2,"y":1.19},{"c":3,"x":973.3,"y":1.68},{"c":3,"x":977.4,"y":1.38},{"c":3,"x":981.4,"y":1.78},{"c":3,"x":985.5,"y":1.09},{"c":3,"x":989.6,"y":1.53},{"c":3,"x":993.7,"y":1.19},{"c":3,"x":997.8,"y":1.68},{"c":3,"x":1001.8,"y":1.19},{"c":3,"x":1005.9,"y":1.04},{"c":3,"x":1010,"y":0.89},{"c":3,"x":1014.1,"y":0.99},{"c":3,"x":1018.2,"y":1.28},{"c":3,"x":1022.2,"y":1.43},{"c":3,"x":1026.3,"y":1.58},{"c":3,"x":1030.4,"y":1.73},{"c":3,"x":1034.5,"y":1.78},{"c":3,"x":1038.6,"y":1.68},{"c":3,"x":1042.6,"y":1.58},{"c":3,"x":1046.7,"y":1.43},{"c":3,"x":1050.8,"y":1.68},{"c":3,"x":1054.9,"y":1.28},{"c":3,"x":1059,"y":1.88},{"c":3,"x":1063,"y":1.53},{"c":3,"x":1067.1,"y":2.12},{"c":3,"x":1071.2,"y":1.78},{"c":3,"x":1075.3,"y":1.63},{"c":3,"x":1079.4,"y":1.48},{"c":3,"x":1083.4,"y":1.23},{"c":3,"x":1087.5,"y":1.28},{"c":3,"x":1091.6,"y":1.04},{"c":3,"x":1095.7,"y":1.23},{"c":3,"x":1099.8,"y":1.09},{"c":3,"x":1103.8,"y":0.64},{"c":3,"x":1107.9,"y":0.4},{"c":3,"x":1112,"y":0.3},{"c":3,"x":1116.1,"y":0.1},{"c":3,"x":1120.2,"y":0.2},{"c":3,"x":1124.2,"y":0.4},{"c":3,"x":1128.3,"y":0.25},{"c":3,"x":1132.4,"y":0.54},{"c":3,"x":1136.5,"y":0.35},{"c":3,"x":1140.6,"y":0.59},{"c":3,"x":1144.6,"y":0.2},{"c":3,"x":1148.7,"y":0.3},{"c":3,"x":1152.8,"y":0.44},{"c":3,"x":1156.9,"y":0.3},{"c":3,"x":1161,"y":0.94},{"c":3,"x":1165,"y":0.4},{"c":3,"x":1169.1,"y":0.89},{"c":3,"x":1173.2,"y":0.54},{"c":3,"x":1177.3,"y":0.79},{"c":3,"x":1181.4,"y":0.44},{"c":3,"x":1185.4,"y":0.94},{"c":3,"x":1189.5,"y":0.79},{"c":3,"x":1193.6,"y":0.54},{"c":3,"x":1197.7,"y":0.4},{"c":3,"x":1201.8,"y":0.35},{"c":3,"x":1205.8,"y":0.4},{"c":3,"x":1209.9,"y":0.59},{"c":3,"x":1214,"y":0.84},{"c":3,"x":1218.1,"y":0.99},{"c":3,"x":1222.2,"y":1.38},{"c":3,"x":1226.2,"y":0.94},{"c":3,"x":1230.3,"y":1.53},{"c":3,"x":1234.4,"y":1.73},{"c":3,"x":1236.4,"y":1.68},
      {"c":4,"x":1295.6,"y":0.15},{"c":4,"x":1301.7,"y":0.12},{"c":4,"x":1307.8,"y":0.25},{"c":4,"x":1311.9,"y":0.4},{"c":4,"x":1316,"y":0.2},{"c":4,"x":1320.1,"y":0.3},{"c":4,"x":1324.2,"y":0.15},{"c":4,"x":1328.2,"y":0.3},{"c":4,"x":1332.3,"y":0.25},{"c":4,"x":1336.4,"y":0.32},{"c":4,"x":1340.5,"y":0.25},{"c":4,"x":1344.6,"y":0.3},{"c":4,"x":1348.6,"y":0.25},{"c":4,"x":1352.7,"y":0.2},{"c":4,"x":1356.8,"y":0.3},{"c":4,"x":1360.9,"y":0.15},{"c":4,"x":1365,"y":0.25},{"c":4,"x":1369,"y":0.4},{"c":4,"x":1373.1,"y":0.3},{"c":4,"x":1377.2,"y":0.54},{"c":4,"x":1381.3,"y":0.3},{"c":4,"x":1385.4,"y":0.54},{"c":4,"x":1389.4,"y":0.2},{"c":4,"x":1393.5,"y":0.4},{"c":4,"x":1397.6,"y":0.59},{"c":4,"x":1401.7,"y":0.35},{"c":4,"x":1405.8,"y":0.15},{"c":4,"x":1409.8,"y":0.49},{"c":4,"x":1413.9,"y":0.3},{"c":4,"x":1418,"y":0.4},{"c":4,"x":1422.1,"y":0.2},{"c":4,"x":1426.2,"y":0.05},{"c":4,"x":1430.2,"y":0.4},{"c":4,"x":1434.3,"y":0.54},{"c":4,"x":1438.4,"y":0.4},{"c":4,"x":1442.5,"y":0.64},{"c":4,"x":1446.6,"y":0.4},{"c":4,"x":1450.6,"y":0.54},{"c":4,"x":1454.7,"y":0.79},{"c":4,"x":1458.8,"y":0.59},{"c":4,"x":1462.9,"y":0.49},{"c":4,"x":1467,"y":0.79},{"c":4,"x":1471,"y":0.94},{"c":4,"x":1475.1,"y":0.74},{"c":4,"x":1479.2,"y":1.04},{"c":4,"x":1483.3,"y":0.89},{"c":4,"x":1487.4,"y":1.14},{"c":4,"x":1491.4,"y":0.89},{"c":4,"x":1495.5,"y":0.79},{"c":4,"x":1499.6,"y":1.09},{"c":4,"x":1503.7,"y":1.33},{"c":4,"x":1507.8,"y":1.48},{"c":4,"x":1511.8,"y":1.63},{"c":4,"x":1515.9,"y":1.48},{"c":4,"x":1520,"y":0.89},{"c":4,"x":1524.1,"y":0.4},{"c":4,"x":1528.2,"y":0.3},{"c":4,"x":1532.2,"y":0.2},{"c":4,"x":1536.3,"y":0.25},{"c":4,"x":1540.4,"y":0.15},{"c":4,"x":1544.5,"y":0.07},{"c":4,"x":1550.6,"y":0.05},{"c":4,"x":1556.7,"y":0.1},{"c":4,"x":1560.8,"y":0.25},{"c":4,"x":1564.9,"y":0.49},{"c":4,"x":1569,"y":0.69},{"c":4,"x":1573,"y":0.49},{"c":4,"x":1577.1,"y":0.44},{"c":4,"x":1581.2,"y":0.35},{"c":4,"x":1587.3,"y":0.4},{"c":4,"x":1592,"y":0.32},{"c":4,"x":1598,"y":0.3},
      {"c":5,"x":1655,"y":0.12},{"c":5,"x":1658,"y":0.07},{"c":5,"x":1662,"y":0.3},{"c":5,"x":1666,"y":0.15},{"c":5,"x":1670,"y":0.3},{"c":5,"x":1674,"y":0.2},{"c":5,"x":1678,"y":0.25},{"c":5,"x":1682,"y":0.3},{"c":5,"x":1686,"y":0.4},{"c":5,"x":1690,"y":0.59},{"c":5,"x":1694,"y":0.44},{"c":5,"x":1698,"y":0.64},{"c":5,"x":1702,"y":0.42},{"c":5,"x":1706,"y":0.54},{"c":5,"x":1710,"y":0.69},{"c":5,"x":1714,"y":0.89},{"c":5,"x":1718,"y":1.09},{"c":5,"x":1722,"y":1.04},{"c":5,"x":1726,"y":1.19},{"c":5,"x":1730,"y":1.68},{"c":5,"x":1734,"y":1.63},{"c":5,"x":1738,"y":2.02},{"c":5,"x":1742,"y":2.27},{"c":5,"x":1746,"y":2.77},{"c":5,"x":1748,"y":2.91},{"c":5,"x":1752,"y":2.67},{"c":5,"x":1756,"y":3.46},{"c":5,"x":1760,"y":3.16},{"c":5,"x":1764,"y":2.27},{"c":5,"x":1768,"y":1.38},{"c":5,"x":1772,"y":1.78},{"c":5,"x":1776,"y":1.48},{"c":5,"x":1780,"y":1.48},{"c":5,"x":1784,"y":1.41},{"c":5,"x":1788,"y":1.38},{"c":5,"x":1792,"y":1.38},{"c":5,"x":1796,"y":1.28},{"c":5,"x":1800,"y":1.19},{"c":5,"x":1804,"y":1.09},{"c":5,"x":1808,"y":0.99},{"c":5,"x":1812,"y":0.89},{"c":5,"x":1816,"y":0.84},{"c":5,"x":1820,"y":0.89},{"c":5,"x":1824,"y":1.19},{"c":5,"x":1828,"y":2.02},{"c":5,"x":1832,"y":1.78},{"c":5,"x":1836,"y":2.27},{"c":5,"x":1840,"y":1.98},{"c":5,"x":1844,"y":2.17},{"c":5,"x":1848,"y":1.78},{"c":5,"x":1852,"y":2.02},{"c":5,"x":1856,"y":1.68},{"c":5,"x":1860,"y":1.73},{"c":5,"x":1864,"y":1.78},{"c":5,"x":1868,"y":1.48},{"c":5,"x":1872,"y":1.09},{"c":5,"x":1876,"y":1.14},{"c":5,"x":1880,"y":0.69},{"c":5,"x":1884,"y":1.04},{"c":5,"x":1888,"y":0.99},{"c":5,"x":1892,"y":1.38},{"c":5,"x":1896,"y":1.88},{"c":5,"x":1900,"y":1.58},{"c":5,"x":1904,"y":1.23},{"c":5,"x":1908,"y":0.84},{"c":5,"x":1912,"y":0.49},{"c":5,"x":1916,"y":0.54},{"c":5,"x":1920,"y":0.79},{"c":5,"x":1924,"y":0.54},{"c":5,"x":1928,"y":0.3},{"c":5,"x":1932,"y":0.44},{"c":5,"x":1936,"y":0.54},{"c":5,"x":1940,"y":0.35},{"c":5,"x":1944,"y":0.2},{"c":5,"x":1948,"y":0.15},{"c":5,"x":1950,"y":0.1},
      {"c":6,"x":2008,"y":2.62},{"c":6,"x":2012,"y":2.37},{"c":6,"x":2016,"y":1.78},{"c":6,"x":2020,"y":1.43},{"c":6,"x":2024,"y":2.02},{"c":6,"x":2028,"y":2.52},{"c":6,"x":2032,"y":1.98},{"c":6,"x":2036,"y":2.27},{"c":6,"x":2040,"y":0.99},{"c":6,"x":2044,"y":0.94},{"c":6,"x":2048,"y":1.28},{"c":6,"x":2052,"y":0.84},{"c":6,"x":2056,"y":1.48},{"c":6,"x":2060,"y":1.63},{"c":6,"x":2064,"y":1.04},{"c":6,"x":2068,"y":0.84},{"c":6,"x":2072,"y":1.43},{"c":6,"x":2076,"y":1.19},{"c":6,"x":2080,"y":1.93},{"c":6,"x":2084,"y":1.38},{"c":6,"x":2088,"y":1.68},{"c":6,"x":2092,"y":1.23},{"c":6,"x":2096,"y":2.17},{"c":6,"x":2100,"y":1.68},{"c":6,"x":2104,"y":1.23},{"c":6,"x":2108,"y":0.84},{"c":6,"x":2112,"y":0.94},{"c":6,"x":2116,"y":1.04},{"c":6,"x":2120,"y":1.14},{"c":6,"x":2124,"y":1.23},{"c":6,"x":2128,"y":1.33},{"c":6,"x":2132,"y":1.38},{"c":6,"x":2136,"y":1.19},{"c":6,"x":2140,"y":1.09},{"c":6,"x":2144,"y":1.04},{"c":6,"x":2148,"y":0.89},{"c":6,"x":2152,"y":1.04},{"c":6,"x":2156,"y":0.79},{"c":6,"x":2160,"y":0.69},{"c":6,"x":2164,"y":0.54},{"c":6,"x":2168,"y":0.59},{"c":6,"x":2172,"y":0.4},{"c":6,"x":2176,"y":0.1},{"c":6,"x":2180,"y":0.49},{"c":6,"x":2184,"y":0.79},{"c":6,"x":2188,"y":1.04},{"c":6,"x":2192,"y":0.79},{"c":6,"x":2196,"y":0.64},{"c":6,"x":2200,"y":0.79},{"c":6,"x":2204,"y":0.49},{"c":6,"x":2208,"y":0.59},{"c":6,"x":2212,"y":0.35},{"c":6,"x":2216,"y":0.49},{"c":6,"x":2220,"y":0.3},{"c":6,"x":2224,"y":0.54},{"c":6,"x":2228,"y":0.4},{"c":6,"x":2232,"y":0.69},{"c":6,"x":2236,"y":0.35},{"c":6,"x":2240,"y":0.69},{"c":6,"x":2244,"y":0.25},{"c":6,"x":2248,"y":0.44},{"c":6,"x":2252,"y":0.35},{"c":6,"x":2256,"y":0.49},{"c":6,"x":2260,"y":0.4},{"c":6,"x":2264,"y":0.44},{"c":6,"x":2268,"y":0.35},{"c":6,"x":2272,"y":0.54},{"c":6,"x":2276,"y":1.19},{"c":6,"x":2280,"y":1.38},{"c":6,"x":2284,"y":1.28},{"c":6,"x":2288,"y":1.33},{"c":6,"x":2292,"y":1.28},{"c":6,"x":2296,"y":1.14},{"c":6,"x":2300,"y":0.79},{"c":6,"x":2304,"y":0.54},{"c":6,"x":2308,"y":0.3},
      {"c":7,"x":2368,"y":0.25},{"c":7,"x":2372,"y":0.64},{"c":7,"x":2376,"y":0.91},{"c":7,"x":2380,"y":0.84},{"c":7,"x":2384,"y":0.59},{"c":7,"x":2388,"y":0.49},{"c":7,"x":2392,"y":0.64},{"c":7,"x":2396,"y":0.4},{"c":7,"x":2400,"y":0.3},{"c":7,"x":2404,"y":0.4},{"c":7,"x":2408,"y":0.2},{"c":7,"x":2412,"y":0.25},{"c":7,"x":2416,"y":0.15},{"c":7,"x":2420,"y":0.3},{"c":7,"x":2424,"y":0.05},{"c":7,"x":2428,"y":0.15},{"c":7,"x":2432,"y":0.49},{"c":7,"x":2436,"y":0.69},{"c":7,"x":2440,"y":0.86},{"c":7,"x":2444,"y":0.54},{"c":7,"x":2448,"y":0.44},{"c":7,"x":2452,"y":0.35},{"c":7,"x":2456,"y":0.44},{"c":7,"x":2460,"y":0.3},{"c":7,"x":2464,"y":0.4},{"c":7,"x":2468,"y":0.1},{"c":7,"x":2472,"y":0.69},{"c":7,"x":2476,"y":0.2},{"c":7,"x":2480,"y":0.3},{"c":7,"x":2484,"y":0.15},{"c":7,"x":2488,"y":0.4},{"c":7,"x":2492,"y":0.2},{"c":7,"x":2496,"y":0.1},{"c":7,"x":2500,"y":0.25},{"c":7,"x":2504,"y":0.02},{"c":7,"x":2508,"y":0.3},{"c":7,"x":2512,"y":0.89},{"c":7,"x":2516,"y":0.15},{"c":7,"x":2520,"y":0.25},{"c":7,"x":2524,"y":0.2},{"c":7,"x":2528,"y":0.15},{"c":7,"x":2532,"y":0.25},{"c":7,"x":2536,"y":0.15},{"c":7,"x":2540,"y":0.3},{"c":7,"x":2544,"y":0.15},{"c":7,"x":2548,"y":0.2},{"c":7,"x":2552,"y":0.1},{"c":7,"x":2556,"y":0.2},{"c":7,"x":2560,"y":0.3},{"c":7,"x":2564,"y":0.44},{"c":7,"x":2568,"y":0.1},{"c":7,"x":2572,"y":0},{"c":7,"x":2576,"y":0.02},{"c":7,"x":2580,"y":0.05},{"c":7,"x":2584,"y":0.07},{"c":7,"x":2588,"y":0.1},{"c":7,"x":2594,"y":0.12},{"c":7,"x":2600,"y":0.1},{"c":7,"x":2606,"y":0.12},{"c":7,"x":2612,"y":0.1},{"c":7,"x":2616,"y":0.2},{"c":7,"x":2620,"y":0.15},{"c":7,"x":2624,"y":0.25},{"c":7,"x":2628,"y":0.3},{"c":7,"x":2632,"y":0.35},{"c":7,"x":2636,"y":0.47},{"c":7,"x":2640,"y":0.44},
      {"c":8,"x":2696,"y":0.84},{"c":8,"x":2700,"y":1.14},{"c":8,"x":2704,"y":1.28},{"c":8,"x":2708,"y":0.69},{"c":8,"x":2712,"y":0.49},{"c":8,"x":2716,"y":0.3},{"c":8,"x":2720,"y":0.07},{"c":8,"x":2724,"y":0.2},{"c":8,"x":2728,"y":0.3},{"c":8,"x":2732,"y":0.2},{"c":8,"x":2736,"y":0.35},{"c":8,"x":2740,"y":0.2},{"c":8,"x":2744,"y":0.35},{"c":8,"x":2748,"y":0.05},{"c":8,"x":2752,"y":0.3},{"c":8,"x":2756,"y":0.49},{"c":8,"x":2760,"y":0.54},{"c":8,"x":2766,"y":0.52},{"c":8,"x":2772,"y":0.47},{"c":8,"x":2778,"y":0.4},{"c":8,"x":2784,"y":0.2},{"c":8,"x":2788,"y":0.44},{"c":8,"x":2792,"y":0.3},{"c":8,"x":2796,"y":0.69},{"c":8,"x":2800,"y":0.15},{"c":8,"x":2804,"y":0.35},{"c":8,"x":2808,"y":0.25},{"c":8,"x":2812,"y":0.4},{"c":8,"x":2816,"y":0.64},{"c":8,"x":2820,"y":0.44},{"c":8,"x":2824,"y":0.49},{"c":8,"x":2828,"y":0.64},{"c":8,"x":2832,"y":0.54},{"c":8,"x":2836,"y":0.25},{"c":8,"x":2840,"y":0.35},{"c":8,"x":2844,"y":0.89},{"c":8,"x":2848,"y":0.54},{"c":8,"x":2852,"y":0.35},{"c":8,"x":2856,"y":0.25},{"c":8,"x":2860,"y":0.49},{"c":8,"x":2864,"y":0.54},{"c":8,"x":2868,"y":0.49},{"c":8,"x":2872,"y":0.59},{"c":8,"x":2876,"y":0.3},{"c":8,"x":2880,"y":0.4},{"c":8,"x":2884,"y":0.79},{"c":8,"x":2888,"y":0.25},{"c":8,"x":2892,"y":0.79},{"c":8,"x":2896,"y":1.33},{"c":8,"x":2900,"y":1.19},{"c":8,"x":2904,"y":1.33},{"c":8,"x":2908,"y":1.19},{"c":8,"x":2912,"y":1.09},{"c":8,"x":2916,"y":1.43},{"c":8,"x":2920,"y":2.07},{"c":8,"x":2924,"y":1.88},{"c":8,"x":2928,"y":1.73},{"c":8,"x":2932,"y":1.53},{"c":8,"x":2936,"y":1.73},{"c":8,"x":2940,"y":1.14},{"c":8,"x":2944,"y":1.63},{"c":8,"x":2948,"y":2.12},{"c":8,"x":2952,"y":2.57},{"c":8,"x":2956,"y":3.09},{"c":8,"x":2960,"y":2.77},{"c":8,"x":2964,"y":2.27},{"c":8,"x":2968,"y":2.96},{"c":8,"x":2972,"y":2.07},{"c":8,"x":2976,"y":1.73},{"c":8,"x":2980,"y":1.38},{"c":8,"x":2984,"y":1.53},{"c":8,"x":2988,"y":1.83},{"c":8,"x":2992,"y":2.12},{"c":8,"x":2996,"y":1.73},{"c":8,"x":3000,"y":1.38},{"c":8,"x":3004,"y":1.33},{"c":8,"x":3008,"y":1.19},{"c":8,"x":3012,"y":1.14},{"c":8,"x":3016,"y":0.94},{"c":8,"x":3020,"y":0.79},{"c":8,"x":3024,"y":0.54},{"c":8,"x":3028,"y":1.09},{"c":8,"x":3032,"y":0.99},{"c":8,"x":3036,"y":0.35},{"c":8,"x":3048,"y":0.49},{"c":8,"x":3058,"y":0.59},{"c":8,"x":3068,"y":0.74},{"c":8,"x":3078,"y":0.84},{"c":8,"x":3088,"y":0.94},{"c":8,"x":3096,"y":1.01},
      {"c":9,"x":3155,"y":1.63},{"c":9,"x":3158,"y":1.93},{"c":9,"x":3162,"y":1.98},{"c":9,"x":3166,"y":2.62},{"c":9,"x":3168,"y":3.01},{"c":9,"x":3172,"y":3.06},{"c":9,"x":3176,"y":3.36},{"c":9,"x":3180,"y":3.56},{"c":9,"x":3184,"y":3.6},{"c":9,"x":3188,"y":4.35},{"c":9,"x":3192,"y":4.94},{"c":9,"x":3194,"y":5.33},{"c":9,"x":3198,"y":5.36},{"c":9,"x":3202,"y":5.33},{"c":9,"x":3206,"y":4.4},{"c":9,"x":3210,"y":3.56},{"c":9,"x":3214,"y":3.8},{"c":9,"x":3218,"y":4.3},{"c":9,"x":3222,"y":5.28},{"c":9,"x":3226,"y":5.09},{"c":9,"x":3230,"y":4.49},{"c":9,"x":3234,"y":3.95},{"c":9,"x":3238,"y":3.8},{"c":9,"x":3242,"y":3.36},{"c":9,"x":3246,"y":3.06},{"c":9,"x":3250,"y":2.47},{"c":9,"x":3254,"y":2.17},{"c":9,"x":3258,"y":1.73},{"c":9,"x":3262,"y":1.43},{"c":9,"x":3266,"y":2.17},{"c":9,"x":3270,"y":1.98},{"c":9,"x":3274,"y":2.27},{"c":9,"x":3278,"y":1.53},{"c":9,"x":3282,"y":1.98},{"c":9,"x":3286,"y":1.78},{"c":9,"x":3290,"y":1.98},{"c":9,"x":3294,"y":1.68},{"c":9,"x":3298,"y":1.58},{"c":9,"x":3302,"y":1.28},{"c":9,"x":3306,"y":1.14},{"c":9,"x":3310,"y":1.04},{"c":9,"x":3314,"y":0.89},{"c":9,"x":3318,"y":0.64},{"c":9,"x":3322,"y":0.79},{"c":9,"x":3326,"y":0.59},{"c":9,"x":3330,"y":0.64},{"c":9,"x":3334,"y":0.89},{"c":9,"x":3338,"y":0.54},{"c":9,"x":3342,"y":0.49},{"c":9,"x":3346,"y":0.79},{"c":9,"x":3350,"y":0.54},{"c":9,"x":3354,"y":0.49},{"c":9,"x":3358,"y":0.54},{"c":9,"x":3362,"y":0.44},{"c":9,"x":3366,"y":0.4},{"c":9,"x":3370,"y":0.35},{"c":9,"x":3374,"y":0.54},{"c":9,"x":3378,"y":1.73},{"c":9,"x":3382,"y":1.19},{"c":9,"x":3386,"y":0.89},{"c":9,"x":3390,"y":1.04},{"c":9,"x":3394,"y":0.44},{"c":9,"x":3398,"y":0.3},{"c":9,"x":3402,"y":0.54},{"c":9,"x":3406,"y":0.35},{"c":9,"x":3410,"y":0.69},{"c":9,"x":3414,"y":0.44},{"c":9,"x":3418,"y":0.3},{"c":9,"x":3422,"y":0.44},{"c":9,"x":3426,"y":0.25},{"c":9,"x":3430,"y":0.1},{"c":9,"x":3434,"y":0.05},{"c":9,"x":3440,"y":0.07},{"c":9,"x":3446,"y":0.05},{"c":9,"x":3452,"y":0.05},{"c":9,"x":3458,"y":0.02},{"c":9,"x":3462,"y":0},
      {"c":10,"x":3518,"y":0.44},{"c":10,"x":3522,"y":0.35},{"c":10,"x":3526,"y":0.2},{"c":10,"x":3530,"y":0.54},{"c":10,"x":3534,"y":0.74},{"c":10,"x":3538,"y":0.79},{"c":10,"x":3542,"y":0.64},{"c":10,"x":3546,"y":0.74},{"c":10,"x":3550,"y":0.54},{"c":10,"x":3554,"y":0.64},{"c":10,"x":3558,"y":0.4},{"c":10,"x":3562,"y":0.54},{"c":10,"x":3566,"y":0.35},{"c":10,"x":3570,"y":0.59},{"c":10,"x":3574,"y":0.54},{"c":10,"x":3578,"y":0.79},{"c":10,"x":3582,"y":0.84},{"c":10,"x":3584,"y":1.16},{"c":10,"x":3588,"y":0.74},{"c":10,"x":3592,"y":0.89},{"c":10,"x":3596,"y":0.54},{"c":10,"x":3600,"y":1.19},{"c":10,"x":3604,"y":0.54},{"c":10,"x":3608,"y":0.79},{"c":10,"x":3612,"y":0.69},{"c":10,"x":3616,"y":0.74},{"c":10,"x":3620,"y":0.69},{"c":10,"x":3624,"y":0.79},{"c":10,"x":3628,"y":0.54},{"c":10,"x":3632,"y":0.35},{"c":10,"x":3636,"y":0.94},{"c":10,"x":3640,"y":0.84},{"c":10,"x":3644,"y":0.54},{"c":10,"x":3648,"y":0.15},{"c":10,"x":3652,"y":0.3},{"c":10,"x":3656,"y":0.49},{"c":10,"x":3660,"y":0.84},{"c":10,"x":3664,"y":0.64},{"c":10,"x":3668,"y":0.99},{"c":10,"x":3672,"y":0.4},{"c":10,"x":3676,"y":0.79},{"c":10,"x":3680,"y":0.54},{"c":10,"x":3684,"y":0.94},{"c":10,"x":3688,"y":0.69},{"c":10,"x":3692,"y":0.64},{"c":10,"x":3696,"y":0.84},{"c":10,"x":3700,"y":1.19},{"c":10,"x":3704,"y":1.19},{"c":10,"x":3708,"y":0.79},{"c":10,"x":3712,"y":0.49},{"c":10,"x":3716,"y":0.1},{"c":10,"x":3720,"y":0.3},{"c":10,"x":3724,"y":0.25},{"c":10,"x":3728,"y":0.49},{"c":10,"x":3732,"y":0.64},{"c":10,"x":3736,"y":0.25},{"c":10,"x":3740,"y":0.15},{"c":10,"x":3744,"y":0.4},{"c":10,"x":3748,"y":0.25},{"c":10,"x":3752,"y":0.49},{"c":10,"x":3756,"y":0.3},{"c":10,"x":3760,"y":0.54},{"c":10,"x":3764,"y":0.64},{"c":10,"x":3768,"y":0.49},{"c":10,"x":3772,"y":0.3},{"c":10,"x":3776,"y":0.64},{"c":10,"x":3780,"y":0.49},{"c":10,"x":3784,"y":0.1},{"c":10,"x":3788,"y":0.2},{"c":10,"x":3792,"y":0.1},{"c":10,"x":3796,"y":0.25},{"c":10,"x":3800,"y":0.3},{"c":10,"x":3804,"y":0.35},{"c":10,"x":3808,"y":0.4},{"c":10,"x":3812,"y":0.54},
      {"c":11,"x":3868,"y":0.17},{"c":11,"x":3872,"y":0.15},{"c":11,"x":3876,"y":0.1},{"c":11,"x":3880,"y":0.07},{"c":11,"x":3884,"y":0},{"c":11,"x":3888,"y":0.05},{"c":11,"x":3892,"y":0.02},{"c":11,"x":3896,"y":0.1},{"c":11,"x":3900,"y":0.3},{"c":11,"x":3904,"y":0.25},{"c":11,"x":3908,"y":0.49},{"c":11,"x":3912,"y":0.2},{"c":11,"x":3916,"y":0.3},{"c":11,"x":3920,"y":0.25},{"c":11,"x":3924,"y":0.35},{"c":11,"x":3928,"y":0.3},{"c":11,"x":3932,"y":0.4},{"c":11,"x":3936,"y":0.3},{"c":11,"x":3940,"y":0.42},{"c":11,"x":3944,"y":0.25},{"c":11,"x":3948,"y":0},{"c":11,"x":3952,"y":0.02},{"c":11,"x":3956,"y":0},{"c":11,"x":3960,"y":0.05},{"c":11,"x":3964,"y":0},{"c":11,"x":3968,"y":0.15},{"c":11,"x":3972,"y":0.2},{"c":11,"x":3976,"y":0.1},{"c":11,"x":3980,"y":0.25},{"c":11,"x":3984,"y":0.3},{"c":11,"x":3988,"y":0.2},{"c":11,"x":3992,"y":0.35},{"c":11,"x":3996,"y":0.02},{"c":11,"x":4000,"y":0.25},{"c":11,"x":4004,"y":0.49},{"c":11,"x":4008,"y":1.04},{"c":11,"x":4012,"y":1.09},{"c":11,"x":4016,"y":0.89},{"c":11,"x":4020,"y":1.14},{"c":11,"x":4024,"y":0.79},{"c":11,"x":4028,"y":1.04},{"c":11,"x":4032,"y":1.09},{"c":11,"x":4036,"y":0.44},{"c":11,"x":4040,"y":0.79},{"c":11,"x":4044,"y":1.04},{"c":11,"x":4048,"y":0.69},{"c":11,"x":4052,"y":0.79},{"c":11,"x":4056,"y":0.99},{"c":11,"x":4060,"y":0.69},{"c":11,"x":4064,"y":1.38},{"c":11,"x":4068,"y":1.28},{"c":11,"x":4072,"y":1.78},{"c":11,"x":4076,"y":1.43},{"c":11,"x":4080,"y":1.93},{"c":11,"x":4084,"y":1.83},{"c":11,"x":4088,"y":2.07},{"c":11,"x":4092,"y":1.98},{"c":11,"x":4096,"y":2.17},{"c":11,"x":4100,"y":1.38},{"c":11,"x":4102,"y":1.98},{"c":11,"x":4106,"y":2.86},{"c":11,"x":4110,"y":3.01},{"c":11,"x":4114,"y":3.16},{"c":11,"x":4117,"y":3.83},
      {"c":12,"x":4174,"y":0.1},{"c":12,"x":4178,"y":0.12},{"c":12,"x":4182,"y":0.07},{"c":12,"x":4186,"y":0.1},{"c":12,"x":4190,"y":0.15},{"c":12,"x":4194,"y":0.2},{"c":12,"x":4198,"y":0.3},{"c":12,"x":4202,"y":0.1},{"c":12,"x":4206,"y":0.05},{"c":12,"x":4210,"y":0.4},{"c":12,"x":4214,"y":0.79},{"c":12,"x":4218,"y":0.99},{"c":12,"x":4222,"y":0.89},{"c":12,"x":4226,"y":1.28},{"c":12,"x":4230,"y":1.04},{"c":12,"x":4234,"y":1.48},{"c":12,"x":4238,"y":1.58},{"c":12,"x":4242,"y":1.53},{"c":12,"x":4246,"y":1.78},{"c":12,"x":4250,"y":2.02},{"c":12,"x":4252,"y":2.12},{"c":12,"x":4256,"y":1.53},{"c":12,"x":4260,"y":1.28},{"c":12,"x":4264,"y":0.89},{"c":12,"x":4268,"y":0.99},{"c":12,"x":4272,"y":1.28},{"c":12,"x":4276,"y":1.53},{"c":12,"x":4280,"y":0.89},{"c":12,"x":4284,"y":1.04},{"c":12,"x":4288,"y":0.99},{"c":12,"x":4292,"y":1.04},{"c":12,"x":4296,"y":1.01},{"c":12,"x":4302,"y":1.01},{"c":12,"x":4306,"y":1.23},{"c":12,"x":4310,"y":0.79},{"c":12,"x":4314,"y":0.49},{"c":12,"x":4318,"y":0.25},{"c":12,"x":4322,"y":0.35},{"c":12,"x":4326,"y":0.4},{"c":12,"x":4330,"y":0.59},{"c":12,"x":4334,"y":0.79},{"c":12,"x":4338,"y":0.49},{"c":12,"x":4342,"y":0.44},{"c":12,"x":4348,"y":0.49},{"c":12,"x":4354,"y":0.52},{"c":12,"x":4360,"y":0.52},{"c":12,"x":4364,"y":0.54},{"c":12,"x":4368,"y":0.84},{"c":12,"x":4372,"y":0.99},{"c":12,"x":4376,"y":1.28},{"c":12,"x":4380,"y":1.04},{"c":12,"x":4384,"y":1.33},{"c":12,"x":4388,"y":1.38},{"c":12,"x":4392,"y":1.04},{"c":12,"x":4396,"y":1.28},{"c":12,"x":4400,"y":1.38},{"c":12,"x":4404,"y":1.19},{"c":12,"x":4408,"y":1.28},{"c":12,"x":4412,"y":1.48},{"c":12,"x":4416,"y":1.83},{"c":12,"x":4420,"y":1.28},{"c":12,"x":4424,"y":0.49},{"c":12,"x":4428,"y":1.23},{"c":12,"x":4432,"y":1.33},{"c":12,"x":4436,"y":1.19},{"c":12,"x":4440,"y":1.28},{"c":12,"x":4444,"y":1.38},{"c":12,"x":4448,"y":1.09},{"c":12,"x":4452,"y":1.78},{"c":12,"x":4456,"y":1.19},{"c":12,"x":4460,"y":0.69},{"c":12,"x":4464,"y":0.4},{"c":12,"x":4468,"y":0.49},{"c":12,"x":4472,"y":0.3},{"c":12,"x":4476,"y":0.59},{"c":12,"x":4480,"y":0.2},{"c":12,"x":4484,"y":0.54},{"c":12,"x":4488,"y":0.3},{"c":12,"x":4492,"y":0.49},{"c":12,"x":4496,"y":0.4},{"c":12,"x":4500,"y":0.59},{"c":12,"x":4504,"y":0.89},{"c":12,"x":4508,"y":0.64},{"c":12,"x":4512,"y":0.4},{"c":12,"x":4516,"y":0.44},{"c":12,"x":4520,"y":0.54},{"c":12,"x":4524,"y":0.4},{"c":12,"x":4528,"y":0.35},{"c":12,"x":4532,"y":0.49},{"c":12,"x":4536,"y":0.44},{"c":12,"x":4540,"y":1.14},{"c":12,"x":4544,"y":0.84},{"c":12,"x":4548,"y":1.09},{"c":12,"x":4552,"y":1.58},{"c":12,"x":4556,"y":1.28},{"c":12,"x":4560,"y":1.14},{"c":12,"x":4562,"y":0.99}
    ]
  },
  "vconcat": [
    {
      "width": 2869,
      "height": 783,
      "title": {"text": "A", "anchor": "start", "frame": "group", "orient": "top", "offset": 0, "dx": -253, "dy": 98, "baseline": "alphabetic", "fontSize": 92, "fontWeight": "normal", "font": "Liberation Sans", "color": "#000000"},
      "layer": [
        {
          "data": {"name": "A"},
          "mark": {"type": "line", "strokeWidth": 6, "strokeJoin": "round", "strokeCap": "round"},
          "encoding": {
            "x": {"field": "x", "type": "quantitative", "scale": {"domain": [0, 4590.4], "nice": false, "zero": false}, "axis": {"title": null, "values": [216, 618.3, 1035.5, 1446.8, 1802.5, 2159, 2503, 2897, 3308, 3664.5, 3992, 4368], "labelExpr": "'Chr ' + (indexof([216, 618.3, 1035.5, 1446.8, 1802.5, 2159, 2503, 2897, 3308, 3664.5, 3992, 4368], datum.value) + 1)"}},
            "y": {"field": "y", "type": "quantitative", "scale": {"domain": [-0.284, 7.51], "nice": false, "zero": false}, "axis": {"title": "LOD score", "values": [0, 2, 4, 6], "format": "d", "titleX": -95, "titleY": 391.5}},
            "color": {"field": "c", "type": "nominal", "scale": {"domain": [1, 2, 3, 4, 5, 6, 7, 8, 9, 10, 11, 12], "range": ["#56228F", "#9E9AC8", "#56228F", "#9E9AC8", "#56228F", "#9E9AC8", "#56228F", "#9E9AC8", "#56228F", "#9E9AC8", "#56228F", "#9E9AC8"]}, "legend": null}
          }
        },
        {
          "data": {"name": "rug"},
          "mark": {"type": "rect", "color": "#000000"},
          "encoding": {
            "x": {"field": "a", "type": "quantitative"},
            "x2": {"field": "b"},
            "y": {"datum": -0.11, "type": "quantitative"},
            "y2": {"datum": -0.284}
          }
        },
        {
          "data": {"values": [{"t": "dotted", "v": 4.54}, {"t": "dashed", "v": 3.88}]},
          "mark": {"type": "rule", "strokeWidth": 2.5, "color": "#333333"},
          "encoding": {
            "y": {"field": "v", "type": "quantitative"},
            "strokeDash": {"field": "t", "type": "nominal", "scale": {"domain": ["dotted", "dashed"], "range": [[2.5, 6], [14, 9]]}, "legend": null}
          }
        }
      ]
    },
    {
      "width": 2869,
      "height": 784,
      "title": {"text": "B", "anchor": "start", "frame": "group", "orient": "top", "offset": 0, "dx": -253, "dy": 90, "baseline": "alphabetic", "fontSize": 92, "fontWeight": "normal", "font": "Liberation Sans", "color": "#000000"},
      "layer": [
        {
          "data": {"name": "B"},
          "mark": {"type": "line", "strokeWidth": 6, "strokeJoin": "round", "strokeCap": "round"},
          "encoding": {
            "x": {"field": "x", "type": "quantitative", "scale": {"domain": [0, 4590.4], "nice": false, "zero": false}, "axis": {"title": null, "values": [216, 618.3, 1035.5, 1446.8, 1802.5, 2159, 2503, 2897, 3308, 3664.5, 3992, 4368], "labelExpr": "'Chr ' + (indexof([216, 618.3, 1035.5, 1446.8, 1802.5, 2159, 2503, 2897, 3308, 3664.5, 3992, 4368], datum.value) + 1)"}},
            "y": {"field": "y", "type": "quantitative", "scale": {"domain": [-0.298, 7.63], "nice": false, "zero": false}, "axis": {"title": "LOD score", "values": [0, 2, 4, 6], "format": "d", "titleX": -95, "titleY": 392}},
            "color": {"field": "c", "type": "nominal", "scale": {"domain": [1, 2, 3, 4, 5, 6, 7, 8, 9, 10, 11, 12], "range": ["#56228F", "#9E9AC8", "#56228F", "#9E9AC8", "#56228F", "#9E9AC8", "#56228F", "#9E9AC8", "#56228F", "#9E9AC8", "#56228F", "#9E9AC8"]}, "legend": null}
          }
        },
        {
          "data": {"name": "rug"},
          "mark": {"type": "rect", "color": "#000000"},
          "encoding": {
            "x": {"field": "a", "type": "quantitative"},
            "x2": {"field": "b"},
            "y": {"datum": -0.12, "type": "quantitative"},
            "y2": {"datum": -0.298}
          }
        },
        {
          "data": {"values": [{"t": "dotted", "v": 4.58}, {"t": "dashed", "v": 3.9}]},
          "mark": {"type": "rule", "strokeWidth": 2.5, "color": "#333333"},
          "encoding": {
            "y": {"field": "v", "type": "quantitative"},
            "strokeDash": {"field": "t", "type": "nominal", "scale": {"domain": ["dotted", "dashed"], "range": [[2.5, 6], [14, 9]]}, "legend": null}
          }
        }
      ]
    },
    {
      "width": 2869,
      "height": 786,
      "title": {"text": "C", "anchor": "start", "frame": "group", "orient": "top", "offset": 0, "dx": -253, "dy": 93, "baseline": "alphabetic", "fontSize": 92, "fontWeight": "normal", "font": "Liberation Sans", "color": "#000000"},
      "layer": [
        {
          "data": {"name": "C"},
          "mark": {"type": "line", "strokeWidth": 6, "strokeJoin": "round", "strokeCap": "round"},
          "encoding": {
            "x": {"field": "x", "type": "quantitative", "scale": {"domain": [0, 4590.4], "nice": false, "zero": false}, "axis": {"title": null, "values": [216, 618.3, 1035.5, 1446.8, 1802.5, 2159, 2503, 2897, 3308, 3664.5, 3992, 4368], "labelExpr": "'Chr ' + (indexof([216, 618.3, 1035.5, 1446.8, 1802.5, 2159, 2503, 2897, 3308, 3664.5, 3992, 4368], datum.value) + 1)"}},
            "y": {"field": "y", "type": "quantitative", "scale": {"domain": [-0.263, 6.62], "nice": false, "zero": false}, "axis": {"title": "LOD score", "values": [0, 1, 2, 3, 4, 5, 6], "format": "d", "titleX": -95, "titleY": 393}},
            "color": {"field": "c", "type": "nominal", "scale": {"domain": [1, 2, 3, 4, 5, 6, 7, 8, 9, 10, 11, 12], "range": ["#56228F", "#9E9AC8", "#56228F", "#9E9AC8", "#56228F", "#9E9AC8", "#56228F", "#9E9AC8", "#56228F", "#9E9AC8", "#56228F", "#9E9AC8"]}, "legend": null}
          }
        },
        {
          "data": {"name": "rug"},
          "mark": {"type": "rect", "color": "#000000"},
          "encoding": {
            "x": {"field": "a", "type": "quantitative"},
            "x2": {"field": "b"},
            "y": {"datum": -0.11, "type": "quantitative"},
            "y2": {"datum": -0.263}
          }
        },
        {
          "data": {"values": [{"t": "dotted", "v": 4.55}, {"t": "dashed", "v": 3.9}]},
          "mark": {"type": "rule", "strokeWidth": 2.5, "color": "#333333"},
          "encoding": {
            "y": {"field": "v", "type": "quantitative"},
            "strokeDash": {"field": "t", "type": "nominal", "scale": {"domain": ["dotted", "dashed"], "range": [[2.5, 6], [14, 9]]}, "legend": null}
          }
        }
      ]
    }
  ]
}
